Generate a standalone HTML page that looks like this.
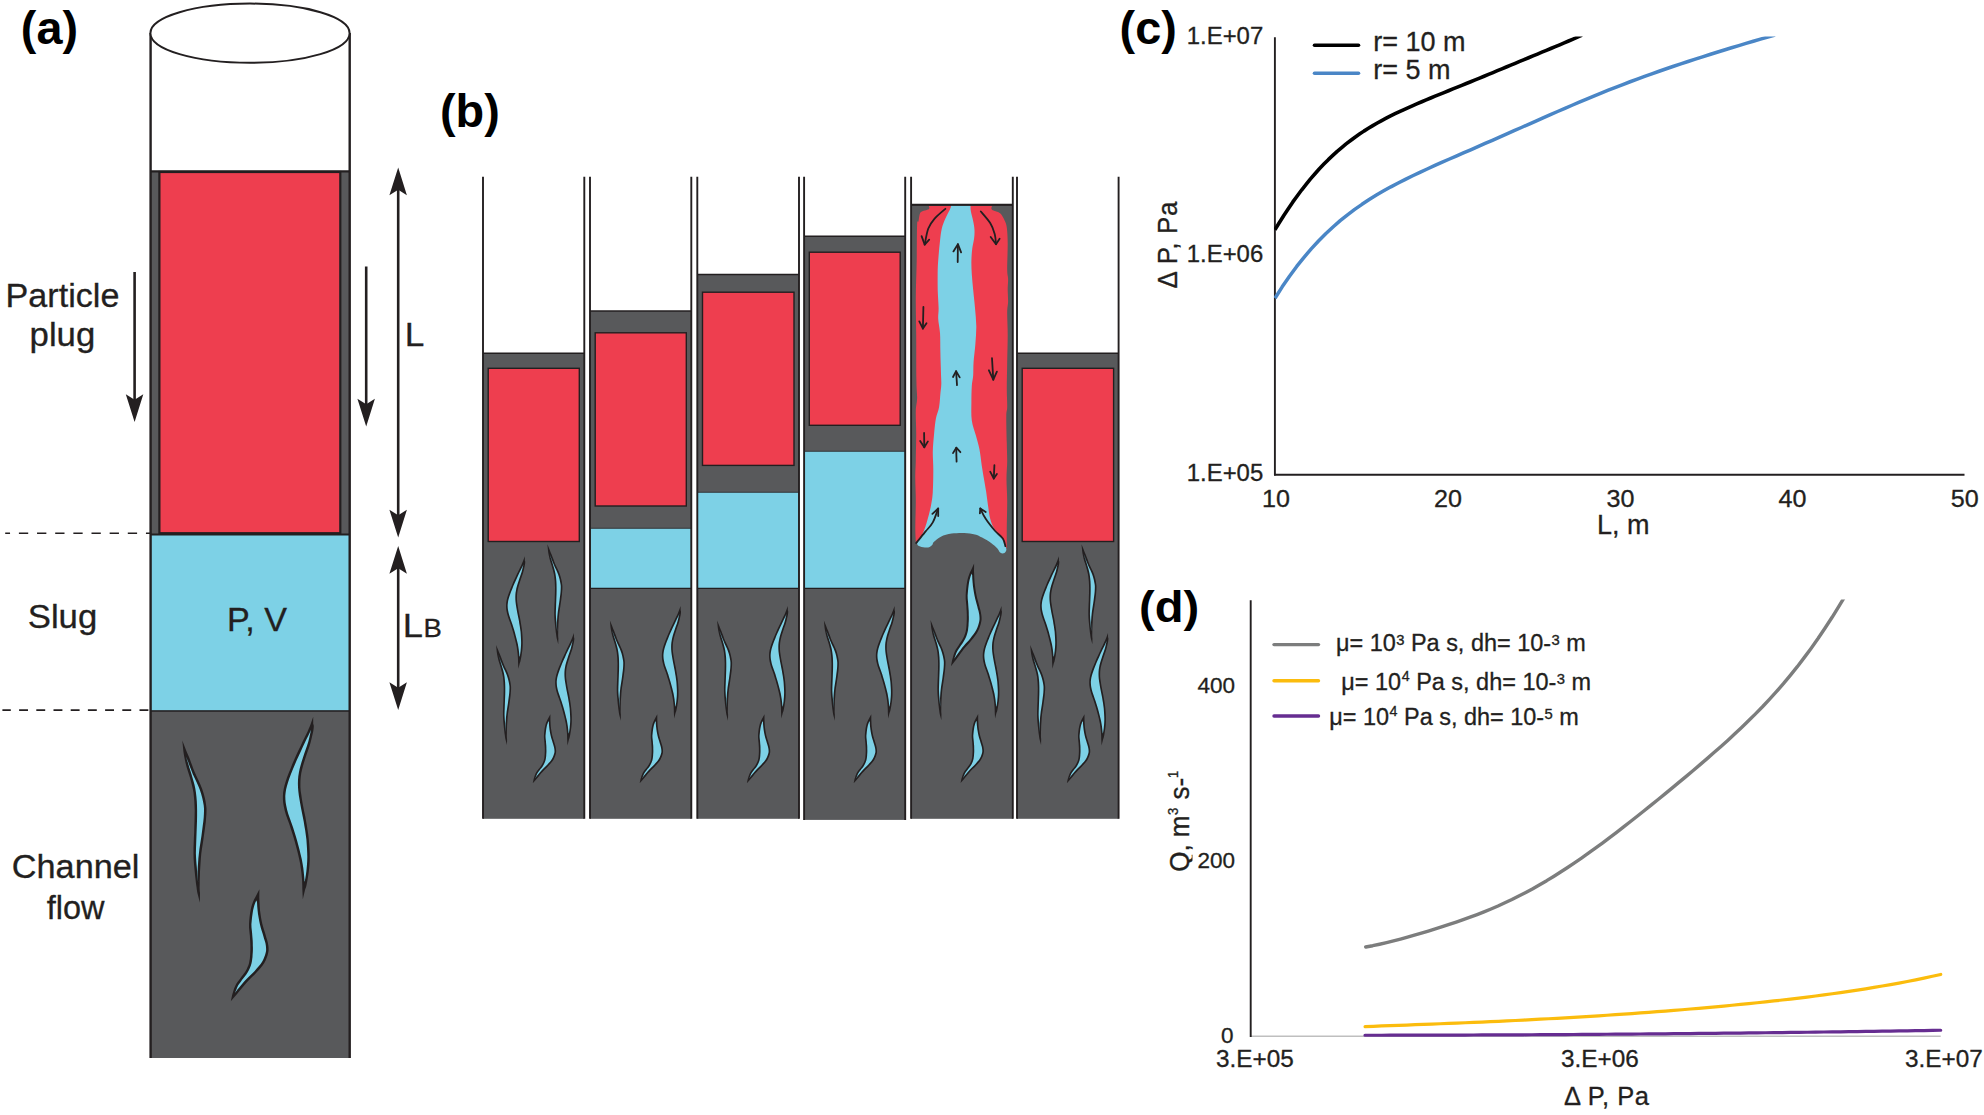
<!DOCTYPE html>
<html lang="en">
<head>
<meta charset="utf-8">
<title>Figure</title>
<style>
html,body{margin:0;padding:0;background:#fff;}
body{width:1984px;height:1115px;overflow:hidden;}
svg{display:block;font-family:"Liberation Sans",sans-serif;}
text{stroke:#231f20;stroke-width:0.3px;}
text.b{stroke:none;}
</style>
</head>
<body>
<svg width="1984" height="1115" viewBox="0 0 1984 1115">
<rect width="1984" height="1115" fill="#fff"/>
<text x="20.8" y="43.8" font-size="46.8" text-anchor="start" font-weight="bold" fill="#000"  class="b">(a)</text>
<path d="M155.25,533.3L5.2,533.3" stroke="#231f20" stroke-width="1.6" stroke-dasharray="9.3,8.85" fill="none"/>
<path d="M148.4,710.1L2.4,710.1" stroke="#231f20" stroke-width="1.6" stroke-dasharray="8.9,8.3" fill="none"/>
<rect x="150" y="171" width="200" height="887" fill="#58595b"/>
<rect x="150" y="33" width="200" height="138" fill="#fff"/>
<rect x="151" y="535" width="198" height="175.6" fill="#7dd1e6"/>
<line x1="150" y1="711" x2="350" y2="711" stroke="#231f20" stroke-width="1.5"/>
<rect x="159.4" y="172" width="180.9" height="361.2" fill="#ee3e4f" stroke="#231f20" stroke-width="2.2"/>
<line x1="150" y1="171.4" x2="350" y2="171.4" stroke="#231f20" stroke-width="2.1"/>
<line x1="150" y1="534.6" x2="350" y2="534.6" stroke="#231f20" stroke-width="2"/>
<line x1="150.6" y1="33" x2="150.6" y2="1058" stroke="#231f20" stroke-width="2.4"/>
<line x1="349.7" y1="33" x2="349.7" y2="1058" stroke="#231f20" stroke-width="2.4"/>
<ellipse cx="250" cy="33.2" rx="99.6" ry="29.6" fill="#fff" stroke="#231f20" stroke-width="2"/>
<g transform="translate(182.3,740.5) scale(1.000,1.000)"><path d="M0.0,0.0L3.6,9.2L4.5,11.4L5.6,14.1L6.9,17.1L8.2,20.6L9.7,24.6L11.2,28.7L12.9,32.7L14.6,36.6L16.5,40.5L18.3,44.4L19.9,48.4L21.2,52.5L22.3,56.6L23.2,60.6L23.8,64.4L24.2,67.8L24.2,70.7L24.1,73.7L23.8,77.2L23.5,81.4L22.9,85.9L22.3,90.6L21.6,95.3L21.0,99.8L20.3,104.2L19.6,108.7L19.0,113.1L18.6,117.6L18.3,122.1L18.0,126.6L17.7,131.0L17.6,135.3L17.4,139.8L17.4,143.8L17.3,147.1L17.4,149.4L17.5,151.1L17.7,152.3L17.6,162.3L15.1,152.4L14.8,150.9L14.5,148.9L14.2,146.4L13.7,143.2L13.3,139.4L12.8,135.2L12.4,131.0L12.0,126.8L11.6,122.4L11.3,117.8L11.2,113.0L11.2,107.8L11.4,102.4L11.6,96.9L11.9,91.5L12.0,86.0L12.2,80.5L12.3,75.1L12.4,70.0L12.2,65.2L12.0,60.6L11.6,56.3L11.2,52.2L10.5,48.4L9.7,44.9L8.8,41.5L7.9,38.0L6.8,34.5L5.7,30.9L4.5,27.3L3.5,23.6L2.6,19.4L1.7,15.0L1.1,11.1Z" fill="#231f20"/><path d="M3.6,16.1L5.9,21.5L7.3,25.5L8.9,29.6L10.5,33.7L12.3,37.6L14.2,41.5L16.0,45.4L17.5,49.2L18.8,53.2L19.9,57.2L20.7,61.1L21.4,64.8L21.7,67.9L21.7,70.7L21.6,73.6L21.4,77.0L21.0,81.1L20.4,85.6L19.8,90.3L19.2,94.9L18.5,99.4L17.8,103.9L17.1,108.4L16.6,112.9L16.1,117.4L15.8,122.0L15.5,126.5L15.3,130.8L15.8,141.7L14.8,130.8L14.5,126.6L14.1,122.2L13.8,117.7L13.6,113.0L13.7,107.9L13.9,102.5L14.1,97.0L14.3,91.5L14.5,86.1L14.7,80.6L14.8,75.1L14.8,70.0L14.7,65.1L14.5,60.5L14.1,56.0L13.6,51.8L13.0,47.9L12.2,44.3L11.3,40.9L10.3,37.4L9.2,33.8L8.1,30.2L6.9,26.6L5.9,23.0Z" fill="#7dd1e6"/></g>
<g transform="translate(313.2,716.8) scale(1.000,1.000)"><path d="M0.0,0.0L0.0,7.2L0.4,8.0L0.6,9.3L0.5,11.3L0.1,14.1L-0.7,17.8L-1.6,21.8L-2.6,25.8L-3.8,29.8L-5.2,33.8L-6.6,37.8L-7.9,41.7L-9.1,45.4L-10.2,49.1L-11.1,52.7L-11.9,56.2L-12.4,59.7L-12.7,63.1L-12.8,66.6L-12.8,70.2L-12.5,74.1L-11.9,78.0L-11.3,82.2L-10.6,86.4L-9.8,90.7L-8.9,95.3L-7.9,99.8L-7.1,104.4L-6.3,108.9L-5.6,113.4L-4.9,117.9L-4.4,122.4L-4.0,127.0L-3.7,131.6L-3.5,136.1L-3.5,140.3L-3.5,144.1L-3.7,147.7L-4.0,151.1L-4.4,154.6L-4.9,158.2L-5.5,162.0L-6.1,165.5L-6.7,168.4L-7.2,170.5L-7.8,172.0L-8.2,173.1L-10.4,182.4L-10.9,171.7L-10.9,169.5L-11.0,166.8L-11.1,163.7L-11.4,160.1L-11.8,156.0L-12.4,151.7L-13.0,147.3L-13.9,143.0L-14.9,138.5L-16.0,133.9L-17.2,129.4L-18.4,125.0L-19.7,120.5L-21.1,116.0L-22.5,111.6L-24.0,107.0L-25.7,102.4L-27.3,97.9L-28.5,93.6L-29.4,89.8L-30.0,86.2L-30.3,82.8L-30.3,79.3L-30.1,75.7L-29.5,72.3L-28.7,68.8L-27.6,64.9L-26.2,60.7L-24.5,56.2L-22.6,51.6L-20.8,47.0L-18.8,42.4L-16.7,37.8L-14.6,33.3L-12.6,29.1L-10.7,25.0L-8.8,21.2L-7.1,17.6L-5.6,14.6L-4.5,12.0L-3.6,9.9L-2.9,8.2Z" fill="#231f20"/><path d="M-2.2,12.9L-3.1,17.3L-4.0,21.3L-5.0,25.2L-6.2,29.0L-7.6,33.0L-9.0,37.0L-10.3,40.9L-11.5,44.7L-12.6,48.4L-13.6,52.1L-14.3,55.8L-14.9,59.4L-15.2,63.0L-15.3,66.6L-15.2,70.4L-14.9,74.3L-14.4,78.4L-13.7,82.6L-13.0,86.8L-12.2,91.2L-11.3,95.7L-10.4,100.3L-9.5,104.8L-8.8,109.3L-8.0,113.8L-7.4,118.2L-6.8,122.6L-6.5,127.1L-6.2,131.7L-6.0,136.1L-5.9,140.3L-6.0,144.1L-6.2,147.5L-6.5,150.9L-6.8,154.2L-7.3,157.9L-7.9,161.6L-8.6,165.0L-9.0,163.6L-8.7,163.5L-9.0,159.9L-9.4,155.7L-9.9,151.3L-10.6,146.9L-11.4,142.4L-12.5,137.9L-13.6,133.3L-14.8,128.8L-16.0,124.3L-17.3,119.8L-18.7,115.3L-20.1,110.8L-21.7,106.2L-23.3,101.6L-24.9,97.1L-26.1,93.0L-26.9,89.3L-27.5,85.9L-27.8,82.6L-27.9,79.3L-27.6,76.0L-27.1,72.8L-26.3,69.4L-25.2,65.7L-23.8,61.5L-22.2,57.1L-20.3,52.5L-18.4,48.0L-16.5,43.5L-14.4,38.9L-12.3,34.4L-10.4,30.1L-8.5,26.1L-6.6,22.3L-4.8,18.7L-3.4,15.6Z" fill="#7dd1e6"/></g>
<g transform="translate(259.4,889.3) scale(1.000,1.000)"><path d="M0.0,0.0L-0.1,8.5L0.1,12.5L0.3,16.9L0.6,20.9L1.1,24.4L1.6,27.9L2.2,31.2L2.9,34.4L3.7,37.5L4.6,40.4L5.5,43.2L6.3,45.9L7.0,48.5L7.8,50.9L8.4,53.3L8.8,55.5L9.1,57.5L9.2,59.4L9.2,61.3L8.8,63.5L8.2,65.9L7.3,68.4L6.2,71.1L4.9,73.6L3.2,76.1L1.2,78.6L-0.8,81.0L-2.9,83.2L-4.9,85.4L-7.1,87.5L-9.1,89.5L-11.1,91.5L-12.9,93.4L-14.6,95.4L-16.3,97.4L-18.0,99.5L-20.1,101.9L-22.3,104.6L-24.3,106.9L-28.6,111.9L-27.2,105.4L-26.3,102.5L-25.3,99.3L-24.2,96.6L-23.1,94.5L-21.9,92.7L-20.7,91.1L-19.4,89.4L-18.0,87.4L-16.4,85.5L-14.9,83.5L-13.7,81.6L-12.6,79.7L-11.8,77.8L-11.0,75.9L-10.4,73.9L-10.0,71.8L-9.6,69.7L-9.4,67.5L-9.2,65.2L-9.1,62.9L-9.0,60.6L-9.0,58.3L-9.0,55.9L-9.1,53.7L-9.2,51.5L-9.4,49.2L-9.5,46.7L-9.8,44.1L-10.1,41.2L-10.4,38.2L-10.4,35.0L-10.2,31.4L-9.8,27.5L-9.3,23.7L-8.7,20.5L-8.1,17.8L-7.5,15.6L-6.8,13.6L-6.0,11.7L-5.1,9.7L-4.1,7.9L-3.2,6.3Z" fill="#231f20"/><path d="M-2.9,11.7L-2.4,12.6L-2.2,17.0L-1.8,21.1L-1.4,24.8L-0.8,28.3L-0.2,31.7L0.5,35.0L1.3,38.1L2.2,41.1L3.1,44.0L3.9,46.7L4.6,49.2L5.4,51.6L6.0,53.8L6.4,55.9L6.6,57.8L6.7,59.4L6.7,61.1L6.4,62.9L5.8,65.1L5.0,67.5L4.0,70.0L2.7,72.4L1.2,74.7L-0.7,77.0L-2.7,79.3L-4.7,81.6L-6.7,83.7L-8.8,85.7L-10.9,87.7L-12.9,89.7L-14.8,91.8L-16.5,93.8L-18.2,95.8L-20.0,97.9L-22.0,100.3L-24.5,103.7L-23.0,100.2L-22.0,97.6L-21.0,95.8L-19.9,94.2L-18.7,92.6L-17.4,90.8L-16.0,89.0L-14.4,87.0L-12.9,84.9L-11.5,82.8L-10.4,80.8L-9.5,78.8L-8.7,76.7L-8.0,74.5L-7.5,72.3L-7.2,70.0L-6.9,67.7L-6.8,65.4L-6.6,63.0L-6.5,60.6L-6.5,58.3L-6.6,55.9L-6.6,53.6L-6.7,51.3L-6.9,49.0L-7.1,46.5L-7.3,43.8L-7.6,41.0L-7.9,38.1L-8.0,35.0L-7.7,31.6L-7.3,27.8L-6.8,24.1L-6.3,20.9L-5.7,18.4L-5.1,16.3L-4.5,14.5L-3.8,12.7L-2.9,10.9Z" fill="#7dd1e6"/></g>
<line x1="134.6" y1="272" x2="134.6" y2="410" stroke="#231f20" stroke-width="2.6"/>
<polygon points="134.6,422.0 125.8,394.3 134.6,399.7 143.3,394.3" fill="#231f20"/>
<line x1="366.2" y1="266.5" x2="366.2" y2="414" stroke="#231f20" stroke-width="2.6"/>
<polygon points="366.2,426.5 357.4,398.8 366.2,404.2 374.9,398.8" fill="#231f20"/>
<line x1="398.2" y1="185" x2="398.2" y2="525" stroke="#231f20" stroke-width="2.6"/>
<polygon points="398.2,167.5 389.4,195.2 398.2,189.8 406.9,195.2" fill="#231f20"/>
<polygon points="398.2,537.5 389.4,509.8 398.2,515.2 406.9,509.8" fill="#231f20"/>
<line x1="398.2" y1="560" x2="398.2" y2="698" stroke="#231f20" stroke-width="2.6"/>
<polygon points="398.2,546.0 389.4,573.7 398.2,568.3 406.9,573.7" fill="#231f20"/>
<polygon points="398.2,710.0 389.4,682.3 398.2,687.7 406.9,682.3" fill="#231f20"/>
<text transform="translate(62.5,307.0) scale(1.050,1)" font-size="32.5" text-anchor="middle" font-weight="normal" fill="#231f20" >Particle</text>
<text transform="translate(62.4,346.4) scale(1.070,1)" font-size="32.5" text-anchor="middle" font-weight="normal" fill="#231f20" >plug</text>
<text transform="translate(62.5,627.5) scale(1.070,1)" font-size="32.5" text-anchor="middle" font-weight="normal" fill="#231f20" >Slug</text>
<text transform="translate(75.6,877.7) scale(1.055,1)" font-size="32.5" text-anchor="middle" font-weight="normal" fill="#231f20" >Channel</text>
<text x="75.6" y="918.8" font-size="32.5" text-anchor="middle" font-weight="normal" fill="#231f20" >flow</text>
<text transform="translate(257.0,631.3) scale(1.050,1)" font-size="32.5" text-anchor="middle" font-weight="normal" fill="#231f20" >P, V</text>
<text transform="translate(404.8,346.4) scale(1.050,1)" font-size="33.5" text-anchor="start" font-weight="normal" fill="#231f20" >L</text>
<text transform="translate(402.8,636.8) scale(1.1,1)" font-size="33" fill="#231f20">L<tspan font-size="25" dx="0.5">B</tspan></text>
<text x="440.0" y="127.3" font-size="46.8" text-anchor="start" font-weight="bold" fill="#000"  class="b">(b)</text>
<rect x="483.0" y="353.3" width="101.3" height="465.5" fill="#58595b"/>
<rect x="488.2" y="368.3" width="91.1" height="173.2" fill="#ee3e4f" stroke="#231f20" stroke-width="1.4"/>
<line x1="483.0" y1="353.3" x2="584.3" y2="353.3" stroke="#231f20" stroke-width="1.6"/>
<line x1="483.0" y1="176.8" x2="483.0" y2="818.8" stroke="#231f20" stroke-width="1.9"/>
<line x1="584.3" y1="176.8" x2="584.3" y2="818.8" stroke="#231f20" stroke-width="1.9"/>
<rect x="590.0" y="311.0" width="101.3" height="507.8" fill="#58595b"/>
<rect x="590.5" y="528.3" width="100.3" height="60.0" fill="#7dd1e6"/>
<line x1="590.0" y1="588.3" x2="691.3" y2="588.3" stroke="#231f20" stroke-width="1.2"/>
<line x1="590.0" y1="528.3" x2="691.3" y2="528.3" stroke="#231f20" stroke-width="1.2" opacity="0.6"/>
<rect x="595.2" y="332.8" width="91.1" height="173.2" fill="#ee3e4f" stroke="#231f20" stroke-width="1.4"/>
<line x1="590.0" y1="311.0" x2="691.3" y2="311.0" stroke="#231f20" stroke-width="1.6"/>
<line x1="590.0" y1="176.8" x2="590.0" y2="818.8" stroke="#231f20" stroke-width="1.9"/>
<line x1="691.3" y1="176.8" x2="691.3" y2="818.8" stroke="#231f20" stroke-width="1.9"/>
<rect x="697.3" y="274.5" width="101.7" height="544.3" fill="#58595b"/>
<rect x="697.8" y="492.3" width="100.7" height="96.0" fill="#7dd1e6"/>
<line x1="697.3" y1="588.3" x2="799.0" y2="588.3" stroke="#231f20" stroke-width="1.2"/>
<line x1="697.3" y1="492.3" x2="799.0" y2="492.3" stroke="#231f20" stroke-width="1.2" opacity="0.6"/>
<rect x="702.5" y="292.2" width="91.5" height="173.2" fill="#ee3e4f" stroke="#231f20" stroke-width="1.4"/>
<line x1="697.3" y1="274.5" x2="799.0" y2="274.5" stroke="#231f20" stroke-width="1.6"/>
<line x1="697.3" y1="176.8" x2="697.3" y2="818.8" stroke="#231f20" stroke-width="1.9"/>
<line x1="799.0" y1="176.8" x2="799.0" y2="818.8" stroke="#231f20" stroke-width="1.9"/>
<rect x="804.1" y="236.3" width="101.1" height="583.6" fill="#58595b"/>
<rect x="804.6" y="451.3" width="100.1" height="137.0" fill="#7dd1e6"/>
<line x1="804.1" y1="588.3" x2="905.2" y2="588.3" stroke="#231f20" stroke-width="1.2"/>
<line x1="804.1" y1="451.3" x2="905.2" y2="451.3" stroke="#231f20" stroke-width="1.2" opacity="0.6"/>
<rect x="809.3" y="252.2" width="90.9" height="173.1" fill="#ee3e4f" stroke="#231f20" stroke-width="1.4"/>
<line x1="804.1" y1="236.3" x2="905.2" y2="236.3" stroke="#231f20" stroke-width="1.6"/>
<line x1="804.1" y1="176.8" x2="804.1" y2="819.9" stroke="#231f20" stroke-width="1.9"/>
<line x1="905.2" y1="176.8" x2="905.2" y2="819.9" stroke="#231f20" stroke-width="1.9"/>
<rect x="911.1" y="204.8" width="101.7" height="614.0" fill="#58595b"/>
<line x1="911.1" y1="204.8" x2="1012.8" y2="204.8" stroke="#231f20" stroke-width="1.6"/>
<line x1="911.1" y1="176.8" x2="911.1" y2="818.8" stroke="#231f20" stroke-width="1.9"/>
<line x1="1012.8" y1="176.8" x2="1012.8" y2="818.8" stroke="#231f20" stroke-width="1.9"/>
<rect x="1017.0" y="353.3" width="101.6" height="465.5" fill="#58595b"/>
<rect x="1022.2" y="368.3" width="91.4" height="173.2" fill="#ee3e4f" stroke="#231f20" stroke-width="1.4"/>
<line x1="1017.0" y1="353.3" x2="1118.6" y2="353.3" stroke="#231f20" stroke-width="1.6"/>
<line x1="1017.0" y1="176.8" x2="1017.0" y2="818.8" stroke="#231f20" stroke-width="1.9"/>
<line x1="1118.6" y1="176.8" x2="1118.6" y2="818.8" stroke="#231f20" stroke-width="1.9"/>
<g transform="translate(524.8,556.2) scale(0.617,0.617)"><path d="M0.0,0.0L0.1,7.2L0.5,7.9L0.7,9.3L0.6,11.3L0.2,14.2L-0.6,17.8L-1.5,21.9L-2.5,25.9L-3.7,29.8L-5.1,33.8L-6.5,37.8L-7.8,41.7L-9.0,45.5L-10.1,49.1L-11.0,52.7L-11.8,56.2L-12.3,59.7L-12.6,63.1L-12.7,66.6L-12.7,70.2L-12.4,74.1L-11.8,78.0L-11.2,82.1L-10.5,86.4L-9.7,90.7L-8.8,95.2L-7.8,99.8L-7.0,104.4L-6.2,108.9L-5.5,113.4L-4.8,117.9L-4.3,122.4L-3.9,126.9L-3.6,131.6L-3.4,136.1L-3.4,140.3L-3.4,144.1L-3.6,147.7L-3.9,151.1L-4.3,154.6L-4.8,158.2L-5.4,162.0L-6.0,165.5L-6.6,168.4L-7.1,170.5L-7.7,172.1L-8.1,173.1L-10.4,182.4L-11.0,171.7L-11.0,169.5L-11.1,166.8L-11.2,163.7L-11.5,160.1L-11.9,156.0L-12.5,151.7L-13.1,147.3L-14.0,143.0L-15.0,138.5L-16.1,134.0L-17.3,129.4L-18.5,125.0L-19.8,120.5L-21.2,116.1L-22.6,111.6L-24.1,107.1L-25.8,102.5L-27.4,97.9L-28.6,93.6L-29.5,89.8L-30.1,86.2L-30.4,82.8L-30.4,79.3L-30.2,75.7L-29.6,72.3L-28.8,68.7L-27.7,64.9L-26.3,60.7L-24.6,56.2L-22.7,51.5L-20.8,47.0L-18.9,42.4L-16.8,37.8L-14.7,33.3L-12.7,29.0L-10.8,25.0L-8.9,21.1L-7.2,17.6L-5.7,14.5L-4.6,12.0L-3.7,9.8L-3.0,8.1Z" fill="#231f20"/><path d="M-2.2,12.9L-3.2,17.3L-4.1,21.2L-5.1,25.1L-6.3,29.0L-7.7,32.9L-9.1,37.0L-10.4,40.9L-11.6,44.7L-12.7,48.4L-13.7,52.1L-14.4,55.8L-15.0,59.4L-15.3,63.0L-15.4,66.6L-15.3,70.4L-15.0,74.3L-14.5,78.4L-13.8,82.6L-13.1,86.8L-12.3,91.2L-11.4,95.8L-10.5,100.3L-9.6,104.8L-8.9,109.3L-8.1,113.8L-7.5,118.2L-6.9,122.6L-6.6,127.1L-6.3,131.7L-6.1,136.1L-6.0,140.3L-6.1,144.0L-6.3,147.5L-6.6,150.9L-6.9,154.2L-7.4,157.9L-8.0,161.6L-9.0,163.6L-8.6,163.5L-8.9,159.9L-9.3,155.7L-9.8,151.3L-10.5,146.9L-11.3,142.4L-12.4,137.9L-13.5,133.3L-14.7,128.8L-15.9,124.2L-17.2,119.8L-18.6,115.3L-20.0,110.8L-21.6,106.2L-23.2,101.6L-24.8,97.1L-26.0,93.0L-26.8,89.3L-27.4,85.9L-27.7,82.6L-27.8,79.3L-27.5,76.1L-27.0,72.8L-26.2,69.4L-25.1,65.7L-23.7,61.6L-22.1,57.1L-20.2,52.6L-18.4,48.0L-16.4,43.5L-14.3,38.9L-12.3,34.4L-10.3,30.2L-8.4,26.2L-6.5,22.3L-4.7,18.8L-3.3,15.7Z" fill="#7dd1e6"/></g>
<g transform="translate(547.4,544.2) scale(0.617,0.617)"><path d="M0.0,0.0L3.7,9.1L4.6,11.4L5.7,14.1L7.0,17.1L8.3,20.6L9.8,24.5L11.3,28.7L12.9,32.7L14.7,36.5L16.6,40.4L18.4,44.4L20.0,48.3L21.3,52.4L22.4,56.6L23.3,60.6L23.9,64.4L24.3,67.7L24.3,70.7L24.2,73.7L23.9,77.2L23.6,81.4L23.0,85.9L22.4,90.7L21.7,95.3L21.1,99.8L20.4,104.3L19.7,108.7L19.1,113.2L18.7,117.6L18.4,122.2L18.1,126.6L17.8,131.0L17.7,135.4L17.5,139.8L17.5,143.8L17.4,147.1L17.5,149.4L17.6,151.1L17.8,152.3L17.6,162.3L15.0,152.4L14.7,150.9L14.4,148.9L14.1,146.4L13.6,143.2L13.2,139.4L12.7,135.2L12.3,131.0L11.9,126.8L11.5,122.4L11.2,117.9L11.1,113.0L11.1,107.8L11.3,102.4L11.5,96.9L11.8,91.5L11.9,86.0L12.1,80.5L12.2,75.1L12.3,70.0L12.1,65.2L11.9,60.6L11.5,56.3L11.1,52.2L10.4,48.4L9.6,44.9L8.7,41.5L7.8,38.1L6.8,34.5L5.6,31.0L4.4,27.3L3.4,23.6L2.5,19.5L1.6,15.0L1.0,11.1Z" fill="#231f20"/><path d="M3.6,16.1L5.8,21.5L7.2,25.5L8.8,29.6L10.5,33.7L12.2,37.7L14.1,41.6L15.9,45.4L17.4,49.3L18.7,53.2L19.8,57.2L20.6,61.1L21.3,64.8L21.6,67.9L21.6,70.7L21.5,73.6L21.3,77.0L20.9,81.1L20.3,85.6L19.7,90.3L19.1,94.9L18.4,99.4L17.7,103.9L17.0,108.3L16.5,112.8L16.0,117.4L15.7,122.0L15.4,126.5L15.8,141.7L14.6,126.6L14.2,122.2L13.9,117.7L13.7,113.0L13.8,107.9L14.0,102.5L14.2,97.0L14.4,91.5L14.6,86.1L14.8,80.6L14.9,75.1L14.9,70.0L14.8,65.1L14.6,60.5L14.2,56.0L13.7,51.8L13.1,47.9L12.3,44.3L11.4,40.8L10.4,37.3L9.3,33.7L8.2,30.1L7.0,26.6L6.0,23.0Z" fill="#7dd1e6"/></g>
<g transform="translate(496.1,644.9) scale(0.617,0.617)"><path d="M0.0,0.0L3.7,9.1L4.6,11.4L5.7,14.1L7.0,17.1L8.3,20.6L9.8,24.5L11.3,28.7L12.9,32.7L14.7,36.5L16.6,40.4L18.4,44.4L20.0,48.3L21.3,52.4L22.4,56.6L23.3,60.6L23.9,64.4L24.3,67.7L24.3,70.7L24.2,73.7L23.9,77.2L23.6,81.4L23.0,85.9L22.4,90.7L21.7,95.3L21.1,99.8L20.4,104.3L19.7,108.7L19.1,113.2L18.7,117.6L18.4,122.2L18.1,126.6L17.8,131.0L17.7,135.4L17.5,139.8L17.5,143.8L17.4,147.1L17.5,149.4L17.6,151.1L17.8,152.3L17.6,162.3L15.0,152.4L14.7,150.9L14.4,148.9L14.1,146.4L13.6,143.2L13.2,139.4L12.7,135.2L12.3,131.0L11.9,126.8L11.5,122.4L11.2,117.9L11.1,113.0L11.1,107.8L11.3,102.4L11.5,96.9L11.8,91.5L11.9,86.0L12.1,80.5L12.2,75.1L12.3,70.0L12.1,65.2L11.9,60.6L11.5,56.3L11.1,52.2L10.4,48.4L9.6,44.9L8.7,41.5L7.8,38.1L6.8,34.5L5.6,31.0L4.4,27.3L3.4,23.6L2.5,19.5L1.6,15.0L1.0,11.1Z" fill="#231f20"/><path d="M3.6,16.1L5.8,21.5L7.2,25.5L8.8,29.6L10.5,33.7L12.2,37.7L14.1,41.6L15.9,45.4L17.4,49.3L18.7,53.2L19.8,57.2L20.6,61.1L21.3,64.8L21.6,67.9L21.6,70.7L21.5,73.6L21.3,77.0L20.9,81.1L20.3,85.6L19.7,90.3L19.1,94.9L18.4,99.4L17.7,103.9L17.0,108.3L16.5,112.8L16.0,117.4L15.7,122.0L15.4,126.5L15.8,141.7L14.6,126.6L14.2,122.2L13.9,117.7L13.7,113.0L13.8,107.9L14.0,102.5L14.2,97.0L14.4,91.5L14.6,86.1L14.8,80.6L14.9,75.1L14.9,70.0L14.8,65.1L14.6,60.5L14.2,56.0L13.7,51.8L13.1,47.9L12.3,44.3L11.4,40.8L10.4,37.3L9.3,33.7L8.2,30.1L7.0,26.6L6.0,23.0Z" fill="#7dd1e6"/></g>
<g transform="translate(573.9,632.9) scale(0.617,0.617)"><path d="M0.0,0.0L0.1,7.2L0.5,7.9L0.7,9.3L0.6,11.3L0.2,14.2L-0.6,17.8L-1.5,21.9L-2.5,25.9L-3.7,29.8L-5.1,33.8L-6.5,37.8L-7.8,41.7L-9.0,45.5L-10.1,49.1L-11.0,52.7L-11.8,56.2L-12.3,59.7L-12.6,63.1L-12.7,66.6L-12.7,70.2L-12.4,74.1L-11.8,78.0L-11.2,82.1L-10.5,86.4L-9.7,90.7L-8.8,95.2L-7.8,99.8L-7.0,104.4L-6.2,108.9L-5.5,113.4L-4.8,117.9L-4.3,122.4L-3.9,126.9L-3.6,131.6L-3.4,136.1L-3.4,140.3L-3.4,144.1L-3.6,147.7L-3.9,151.1L-4.3,154.6L-4.8,158.2L-5.4,162.0L-6.0,165.5L-6.6,168.4L-7.1,170.5L-7.7,172.1L-8.1,173.1L-10.4,182.4L-11.0,171.7L-11.0,169.5L-11.1,166.8L-11.2,163.7L-11.5,160.1L-11.9,156.0L-12.5,151.7L-13.1,147.3L-14.0,143.0L-15.0,138.5L-16.1,134.0L-17.3,129.4L-18.5,125.0L-19.8,120.5L-21.2,116.1L-22.6,111.6L-24.1,107.1L-25.8,102.5L-27.4,97.9L-28.6,93.6L-29.5,89.8L-30.1,86.2L-30.4,82.8L-30.4,79.3L-30.2,75.7L-29.6,72.3L-28.8,68.7L-27.7,64.9L-26.3,60.7L-24.6,56.2L-22.7,51.5L-20.8,47.0L-18.9,42.4L-16.8,37.8L-14.7,33.3L-12.7,29.0L-10.8,25.0L-8.9,21.1L-7.2,17.6L-5.7,14.5L-4.6,12.0L-3.7,9.8L-3.0,8.1Z" fill="#231f20"/><path d="M-2.2,12.9L-3.2,17.3L-4.1,21.2L-5.1,25.1L-6.3,29.0L-7.7,32.9L-9.1,37.0L-10.4,40.9L-11.6,44.7L-12.7,48.4L-13.7,52.1L-14.4,55.8L-15.0,59.4L-15.3,63.0L-15.4,66.6L-15.3,70.4L-15.0,74.3L-14.5,78.4L-13.8,82.6L-13.1,86.8L-12.3,91.2L-11.4,95.8L-10.5,100.3L-9.6,104.8L-8.9,109.3L-8.1,113.8L-7.5,118.2L-6.9,122.6L-6.6,127.1L-6.3,131.7L-6.1,136.1L-6.0,140.3L-6.1,144.0L-6.3,147.5L-6.6,150.9L-6.9,154.2L-7.4,157.9L-8.0,161.6L-9.0,163.6L-8.6,163.5L-8.9,159.9L-9.3,155.7L-9.8,151.3L-10.5,146.9L-11.3,142.4L-12.4,137.9L-13.5,133.3L-14.7,128.8L-15.9,124.2L-17.2,119.8L-18.6,115.3L-20.0,110.8L-21.6,106.2L-23.2,101.6L-24.8,97.1L-26.0,93.0L-26.8,89.3L-27.4,85.9L-27.7,82.6L-27.8,79.3L-27.5,76.1L-27.0,72.8L-26.2,69.4L-25.1,65.7L-23.7,61.6L-22.1,57.1L-20.2,52.6L-18.4,48.0L-16.4,43.5L-14.3,38.9L-12.3,34.4L-10.3,30.2L-8.4,26.2L-6.5,22.3L-4.7,18.8L-3.3,15.7Z" fill="#7dd1e6"/></g>
<g transform="translate(550.4,714.2) scale(0.617,0.617)"><path d="M0.0,0.0L-0.0,8.5L0.2,12.5L0.4,16.9L0.7,20.9L1.2,24.4L1.7,27.8L2.3,31.2L3.0,34.4L3.8,37.4L4.7,40.4L5.6,43.2L6.4,45.9L7.1,48.5L7.9,50.9L8.5,53.2L8.9,55.5L9.2,57.5L9.3,59.4L9.3,61.3L8.9,63.5L8.3,65.9L7.4,68.5L6.3,71.1L5.0,73.7L3.3,76.2L1.3,78.7L-0.8,81.0L-2.8,83.3L-4.9,85.5L-7.0,87.6L-9.1,89.5L-11.0,91.5L-12.8,93.5L-14.5,95.5L-16.2,97.5L-18.0,99.6L-20.0,102.0L-22.2,104.6L-24.2,107.0L-28.6,111.9L-27.3,105.4L-26.4,102.5L-25.4,99.3L-24.3,96.5L-23.2,94.4L-22.0,92.6L-20.8,91.0L-19.5,89.3L-18.0,87.4L-16.5,85.4L-15.0,83.4L-13.8,81.5L-12.7,79.6L-11.9,77.7L-11.1,75.8L-10.5,73.9L-10.0,71.8L-9.7,69.7L-9.5,67.5L-9.3,65.2L-9.2,62.9L-9.1,60.6L-9.1,58.3L-9.1,55.9L-9.2,53.7L-9.3,51.5L-9.5,49.2L-9.6,46.7L-9.9,44.1L-10.2,41.2L-10.5,38.2L-10.5,35.0L-10.3,31.4L-9.9,27.5L-9.4,23.7L-8.8,20.4L-8.2,17.8L-7.6,15.5L-6.9,13.6L-6.1,11.7L-5.2,9.7L-4.2,7.8L-3.3,6.2Z" fill="#231f20"/><path d="M-2.9,11.7L-2.5,12.6L-2.3,17.0L-1.9,21.1L-1.5,24.8L-0.9,28.3L-0.3,31.7L0.4,35.0L1.2,38.2L2.1,41.2L3.0,44.0L3.8,46.7L4.6,49.2L5.3,51.6L5.9,53.8L6.3,55.9L6.5,57.8L6.6,59.4L6.6,61.1L6.3,62.9L5.7,65.1L4.9,67.5L3.9,69.9L2.6,72.3L1.1,74.6L-0.8,76.9L-2.8,79.2L-4.8,81.5L-6.8,83.6L-8.9,85.6L-11.0,87.6L-13.0,89.7L-14.8,91.7L-16.6,93.7L-18.3,95.7L-20.0,97.8L-22.1,100.3L-24.5,103.7L-22.9,100.2L-21.9,97.7L-20.9,95.8L-19.8,94.2L-18.6,92.6L-17.3,90.9L-15.9,89.0L-14.3,87.0L-12.8,85.0L-11.4,82.9L-10.3,80.8L-9.4,78.8L-8.6,76.7L-7.9,74.5L-7.4,72.3L-7.1,70.0L-6.8,67.7L-6.7,65.4L-6.5,63.0L-6.4,60.6L-6.4,58.3L-6.5,55.9L-6.5,53.6L-6.6,51.3L-6.8,49.0L-7.0,46.5L-7.2,43.8L-7.5,41.0L-7.8,38.1L-7.9,35.0L-7.6,31.6L-7.2,27.8L-6.7,24.1L-6.2,21.0L-5.6,18.4L-5.0,16.4L-4.4,14.5L-3.7,12.7L-2.8,10.9Z" fill="#7dd1e6"/></g>
<g transform="translate(1058.9,556.2) scale(0.617,0.617)"><path d="M0.0,0.0L0.1,7.2L0.5,7.9L0.7,9.3L0.6,11.3L0.2,14.2L-0.6,17.8L-1.5,21.9L-2.5,25.9L-3.7,29.8L-5.1,33.8L-6.5,37.8L-7.8,41.7L-9.0,45.5L-10.1,49.1L-11.0,52.7L-11.8,56.2L-12.3,59.7L-12.6,63.1L-12.7,66.6L-12.7,70.2L-12.4,74.1L-11.8,78.0L-11.2,82.1L-10.5,86.4L-9.7,90.7L-8.8,95.2L-7.8,99.8L-7.0,104.4L-6.2,108.9L-5.5,113.4L-4.8,117.9L-4.3,122.4L-3.9,126.9L-3.6,131.6L-3.4,136.1L-3.4,140.3L-3.4,144.1L-3.6,147.7L-3.9,151.1L-4.3,154.6L-4.8,158.2L-5.4,162.0L-6.0,165.5L-6.6,168.4L-7.1,170.5L-7.7,172.1L-8.1,173.1L-10.4,182.4L-11.0,171.7L-11.0,169.5L-11.1,166.8L-11.2,163.7L-11.5,160.1L-11.9,156.0L-12.5,151.7L-13.1,147.3L-14.0,143.0L-15.0,138.5L-16.1,134.0L-17.3,129.4L-18.5,125.0L-19.8,120.5L-21.2,116.1L-22.6,111.6L-24.1,107.1L-25.8,102.5L-27.4,97.9L-28.6,93.6L-29.5,89.8L-30.1,86.2L-30.4,82.8L-30.4,79.3L-30.2,75.7L-29.6,72.3L-28.8,68.7L-27.7,64.9L-26.3,60.7L-24.6,56.2L-22.7,51.5L-20.8,47.0L-18.9,42.4L-16.8,37.8L-14.7,33.3L-12.7,29.0L-10.8,25.0L-8.9,21.1L-7.2,17.6L-5.7,14.5L-4.6,12.0L-3.7,9.8L-3.0,8.1Z" fill="#231f20"/><path d="M-2.2,12.9L-3.2,17.3L-4.1,21.2L-5.1,25.1L-6.3,29.0L-7.7,32.9L-9.1,37.0L-10.4,40.9L-11.6,44.7L-12.7,48.4L-13.7,52.1L-14.4,55.8L-15.0,59.4L-15.3,63.0L-15.4,66.6L-15.3,70.4L-15.0,74.3L-14.5,78.4L-13.8,82.6L-13.1,86.8L-12.3,91.2L-11.4,95.8L-10.5,100.3L-9.6,104.8L-8.9,109.3L-8.1,113.8L-7.5,118.2L-6.9,122.6L-6.6,127.1L-6.3,131.7L-6.1,136.1L-6.0,140.3L-6.1,144.0L-6.3,147.5L-6.6,150.9L-6.9,154.2L-7.4,157.9L-8.0,161.6L-9.0,163.6L-8.6,163.5L-8.9,159.9L-9.3,155.7L-9.8,151.3L-10.5,146.9L-11.3,142.4L-12.4,137.9L-13.5,133.3L-14.7,128.8L-15.9,124.2L-17.2,119.8L-18.6,115.3L-20.0,110.8L-21.6,106.2L-23.2,101.6L-24.8,97.1L-26.0,93.0L-26.8,89.3L-27.4,85.9L-27.7,82.6L-27.8,79.3L-27.5,76.1L-27.0,72.8L-26.2,69.4L-25.1,65.7L-23.7,61.6L-22.1,57.1L-20.2,52.6L-18.4,48.0L-16.4,43.5L-14.3,38.9L-12.3,34.4L-10.3,30.2L-8.4,26.2L-6.5,22.3L-4.7,18.8L-3.3,15.7Z" fill="#7dd1e6"/></g>
<g transform="translate(1081.5,544.2) scale(0.617,0.617)"><path d="M0.0,0.0L3.7,9.1L4.6,11.4L5.7,14.1L7.0,17.1L8.3,20.6L9.8,24.5L11.3,28.7L12.9,32.7L14.7,36.5L16.6,40.4L18.4,44.4L20.0,48.3L21.3,52.4L22.4,56.6L23.3,60.6L23.9,64.4L24.3,67.7L24.3,70.7L24.2,73.7L23.9,77.2L23.6,81.4L23.0,85.9L22.4,90.7L21.7,95.3L21.1,99.8L20.4,104.3L19.7,108.7L19.1,113.2L18.7,117.6L18.4,122.2L18.1,126.6L17.8,131.0L17.7,135.4L17.5,139.8L17.5,143.8L17.4,147.1L17.5,149.4L17.6,151.1L17.8,152.3L17.6,162.3L15.0,152.4L14.7,150.9L14.4,148.9L14.1,146.4L13.6,143.2L13.2,139.4L12.7,135.2L12.3,131.0L11.9,126.8L11.5,122.4L11.2,117.9L11.1,113.0L11.1,107.8L11.3,102.4L11.5,96.9L11.8,91.5L11.9,86.0L12.1,80.5L12.2,75.1L12.3,70.0L12.1,65.2L11.9,60.6L11.5,56.3L11.1,52.2L10.4,48.4L9.6,44.9L8.7,41.5L7.8,38.1L6.8,34.5L5.6,31.0L4.4,27.3L3.4,23.6L2.5,19.5L1.6,15.0L1.0,11.1Z" fill="#231f20"/><path d="M3.6,16.1L5.8,21.5L7.2,25.5L8.8,29.6L10.5,33.7L12.2,37.7L14.1,41.6L15.9,45.4L17.4,49.3L18.7,53.2L19.8,57.2L20.6,61.1L21.3,64.8L21.6,67.9L21.6,70.7L21.5,73.6L21.3,77.0L20.9,81.1L20.3,85.6L19.7,90.3L19.1,94.9L18.4,99.4L17.7,103.9L17.0,108.3L16.5,112.8L16.0,117.4L15.7,122.0L15.4,126.5L15.8,141.7L14.6,126.6L14.2,122.2L13.9,117.7L13.7,113.0L13.8,107.9L14.0,102.5L14.2,97.0L14.4,91.5L14.6,86.1L14.8,80.6L14.9,75.1L14.9,70.0L14.8,65.1L14.6,60.5L14.2,56.0L13.7,51.8L13.1,47.9L12.3,44.3L11.4,40.8L10.4,37.3L9.3,33.7L8.2,30.1L7.0,26.6L6.0,23.0Z" fill="#7dd1e6"/></g>
<g transform="translate(1030.2,644.9) scale(0.617,0.617)"><path d="M0.0,0.0L3.7,9.1L4.6,11.4L5.7,14.1L7.0,17.1L8.3,20.6L9.8,24.5L11.3,28.7L12.9,32.7L14.7,36.5L16.6,40.4L18.4,44.4L20.0,48.3L21.3,52.4L22.4,56.6L23.3,60.6L23.9,64.4L24.3,67.7L24.3,70.7L24.2,73.7L23.9,77.2L23.6,81.4L23.0,85.9L22.4,90.7L21.7,95.3L21.1,99.8L20.4,104.3L19.7,108.7L19.1,113.2L18.7,117.6L18.4,122.2L18.1,126.6L17.8,131.0L17.7,135.4L17.5,139.8L17.5,143.8L17.4,147.1L17.5,149.4L17.6,151.1L17.8,152.3L17.6,162.3L15.0,152.4L14.7,150.9L14.4,148.9L14.1,146.4L13.6,143.2L13.2,139.4L12.7,135.2L12.3,131.0L11.9,126.8L11.5,122.4L11.2,117.9L11.1,113.0L11.1,107.8L11.3,102.4L11.5,96.9L11.8,91.5L11.9,86.0L12.1,80.5L12.2,75.1L12.3,70.0L12.1,65.2L11.9,60.6L11.5,56.3L11.1,52.2L10.4,48.4L9.6,44.9L8.7,41.5L7.8,38.1L6.8,34.5L5.6,31.0L4.4,27.3L3.4,23.6L2.5,19.5L1.6,15.0L1.0,11.1Z" fill="#231f20"/><path d="M3.6,16.1L5.8,21.5L7.2,25.5L8.8,29.6L10.5,33.7L12.2,37.7L14.1,41.6L15.9,45.4L17.4,49.3L18.7,53.2L19.8,57.2L20.6,61.1L21.3,64.8L21.6,67.9L21.6,70.7L21.5,73.6L21.3,77.0L20.9,81.1L20.3,85.6L19.7,90.3L19.1,94.9L18.4,99.4L17.7,103.9L17.0,108.3L16.5,112.8L16.0,117.4L15.7,122.0L15.4,126.5L15.8,141.7L14.6,126.6L14.2,122.2L13.9,117.7L13.7,113.0L13.8,107.9L14.0,102.5L14.2,97.0L14.4,91.5L14.6,86.1L14.8,80.6L14.9,75.1L14.9,70.0L14.8,65.1L14.6,60.5L14.2,56.0L13.7,51.8L13.1,47.9L12.3,44.3L11.4,40.8L10.4,37.3L9.3,33.7L8.2,30.1L7.0,26.6L6.0,23.0Z" fill="#7dd1e6"/></g>
<g transform="translate(1108.0,632.9) scale(0.617,0.617)"><path d="M0.0,0.0L0.1,7.2L0.5,7.9L0.7,9.3L0.6,11.3L0.2,14.2L-0.6,17.8L-1.5,21.9L-2.5,25.9L-3.7,29.8L-5.1,33.8L-6.5,37.8L-7.8,41.7L-9.0,45.5L-10.1,49.1L-11.0,52.7L-11.8,56.2L-12.3,59.7L-12.6,63.1L-12.7,66.6L-12.7,70.2L-12.4,74.1L-11.8,78.0L-11.2,82.1L-10.5,86.4L-9.7,90.7L-8.8,95.2L-7.8,99.8L-7.0,104.4L-6.2,108.9L-5.5,113.4L-4.8,117.9L-4.3,122.4L-3.9,126.9L-3.6,131.6L-3.4,136.1L-3.4,140.3L-3.4,144.1L-3.6,147.7L-3.9,151.1L-4.3,154.6L-4.8,158.2L-5.4,162.0L-6.0,165.5L-6.6,168.4L-7.1,170.5L-7.7,172.1L-8.1,173.1L-10.4,182.4L-11.0,171.7L-11.0,169.5L-11.1,166.8L-11.2,163.7L-11.5,160.1L-11.9,156.0L-12.5,151.7L-13.1,147.3L-14.0,143.0L-15.0,138.5L-16.1,134.0L-17.3,129.4L-18.5,125.0L-19.8,120.5L-21.2,116.1L-22.6,111.6L-24.1,107.1L-25.8,102.5L-27.4,97.9L-28.6,93.6L-29.5,89.8L-30.1,86.2L-30.4,82.8L-30.4,79.3L-30.2,75.7L-29.6,72.3L-28.8,68.7L-27.7,64.9L-26.3,60.7L-24.6,56.2L-22.7,51.5L-20.8,47.0L-18.9,42.4L-16.8,37.8L-14.7,33.3L-12.7,29.0L-10.8,25.0L-8.9,21.1L-7.2,17.6L-5.7,14.5L-4.6,12.0L-3.7,9.8L-3.0,8.1Z" fill="#231f20"/><path d="M-2.2,12.9L-3.2,17.3L-4.1,21.2L-5.1,25.1L-6.3,29.0L-7.7,32.9L-9.1,37.0L-10.4,40.9L-11.6,44.7L-12.7,48.4L-13.7,52.1L-14.4,55.8L-15.0,59.4L-15.3,63.0L-15.4,66.6L-15.3,70.4L-15.0,74.3L-14.5,78.4L-13.8,82.6L-13.1,86.8L-12.3,91.2L-11.4,95.8L-10.5,100.3L-9.6,104.8L-8.9,109.3L-8.1,113.8L-7.5,118.2L-6.9,122.6L-6.6,127.1L-6.3,131.7L-6.1,136.1L-6.0,140.3L-6.1,144.0L-6.3,147.5L-6.6,150.9L-6.9,154.2L-7.4,157.9L-8.0,161.6L-9.0,163.6L-8.6,163.5L-8.9,159.9L-9.3,155.7L-9.8,151.3L-10.5,146.9L-11.3,142.4L-12.4,137.9L-13.5,133.3L-14.7,128.8L-15.9,124.2L-17.2,119.8L-18.6,115.3L-20.0,110.8L-21.6,106.2L-23.2,101.6L-24.8,97.1L-26.0,93.0L-26.8,89.3L-27.4,85.9L-27.7,82.6L-27.8,79.3L-27.5,76.1L-27.0,72.8L-26.2,69.4L-25.1,65.7L-23.7,61.6L-22.1,57.1L-20.2,52.6L-18.4,48.0L-16.4,43.5L-14.3,38.9L-12.3,34.4L-10.3,30.2L-8.4,26.2L-6.5,22.3L-4.7,18.8L-3.3,15.7Z" fill="#7dd1e6"/></g>
<g transform="translate(1084.5,714.2) scale(0.617,0.617)"><path d="M0.0,0.0L-0.0,8.5L0.2,12.5L0.4,16.9L0.7,20.9L1.2,24.4L1.7,27.8L2.3,31.2L3.0,34.4L3.8,37.4L4.7,40.4L5.6,43.2L6.4,45.9L7.1,48.5L7.9,50.9L8.5,53.2L8.9,55.5L9.2,57.5L9.3,59.4L9.3,61.3L8.9,63.5L8.3,65.9L7.4,68.5L6.3,71.1L5.0,73.7L3.3,76.2L1.3,78.7L-0.8,81.0L-2.8,83.3L-4.9,85.5L-7.0,87.6L-9.1,89.5L-11.0,91.5L-12.8,93.5L-14.5,95.5L-16.2,97.5L-18.0,99.6L-20.0,102.0L-22.2,104.6L-24.2,107.0L-28.6,111.9L-27.3,105.4L-26.4,102.5L-25.4,99.3L-24.3,96.5L-23.2,94.4L-22.0,92.6L-20.8,91.0L-19.5,89.3L-18.0,87.4L-16.5,85.4L-15.0,83.4L-13.8,81.5L-12.7,79.6L-11.9,77.7L-11.1,75.8L-10.5,73.9L-10.0,71.8L-9.7,69.7L-9.5,67.5L-9.3,65.2L-9.2,62.9L-9.1,60.6L-9.1,58.3L-9.1,55.9L-9.2,53.7L-9.3,51.5L-9.5,49.2L-9.6,46.7L-9.9,44.1L-10.2,41.2L-10.5,38.2L-10.5,35.0L-10.3,31.4L-9.9,27.5L-9.4,23.7L-8.8,20.4L-8.2,17.8L-7.6,15.5L-6.9,13.6L-6.1,11.7L-5.2,9.7L-4.2,7.8L-3.3,6.2Z" fill="#231f20"/><path d="M-2.9,11.7L-2.5,12.6L-2.3,17.0L-1.9,21.1L-1.5,24.8L-0.9,28.3L-0.3,31.7L0.4,35.0L1.2,38.2L2.1,41.2L3.0,44.0L3.8,46.7L4.6,49.2L5.3,51.6L5.9,53.8L6.3,55.9L6.5,57.8L6.6,59.4L6.6,61.1L6.3,62.9L5.7,65.1L4.9,67.5L3.9,69.9L2.6,72.3L1.1,74.6L-0.8,76.9L-2.8,79.2L-4.8,81.5L-6.8,83.6L-8.9,85.6L-11.0,87.6L-13.0,89.7L-14.8,91.7L-16.6,93.7L-18.3,95.7L-20.0,97.8L-22.1,100.3L-24.5,103.7L-22.9,100.2L-21.9,97.7L-20.9,95.8L-19.8,94.2L-18.6,92.6L-17.3,90.9L-15.9,89.0L-14.3,87.0L-12.8,85.0L-11.4,82.9L-10.3,80.8L-9.4,78.8L-8.6,76.7L-7.9,74.5L-7.4,72.3L-7.1,70.0L-6.8,67.7L-6.7,65.4L-6.5,63.0L-6.4,60.6L-6.4,58.3L-6.5,55.9L-6.5,53.6L-6.6,51.3L-6.8,49.0L-7.0,46.5L-7.2,43.8L-7.5,41.0L-7.8,38.1L-7.9,35.0L-7.6,31.6L-7.2,27.8L-6.7,24.1L-6.2,21.0L-5.6,18.4L-5.0,16.4L-4.4,14.5L-3.7,12.7L-2.8,10.9Z" fill="#7dd1e6"/></g>
<g transform="translate(609.9,620.5) scale(0.617,0.617)"><path d="M0.0,0.0L3.7,9.1L4.6,11.4L5.7,14.1L7.0,17.1L8.3,20.6L9.8,24.5L11.3,28.7L12.9,32.7L14.7,36.5L16.6,40.4L18.4,44.4L20.0,48.3L21.3,52.4L22.4,56.6L23.3,60.6L23.9,64.4L24.3,67.7L24.3,70.7L24.2,73.7L23.9,77.2L23.6,81.4L23.0,85.9L22.4,90.7L21.7,95.3L21.1,99.8L20.4,104.3L19.7,108.7L19.1,113.2L18.7,117.6L18.4,122.2L18.1,126.6L17.8,131.0L17.7,135.4L17.5,139.8L17.5,143.8L17.4,147.1L17.5,149.4L17.6,151.1L17.8,152.3L17.6,162.3L15.0,152.4L14.7,150.9L14.4,148.9L14.1,146.4L13.6,143.2L13.2,139.4L12.7,135.2L12.3,131.0L11.9,126.8L11.5,122.4L11.2,117.9L11.1,113.0L11.1,107.8L11.3,102.4L11.5,96.9L11.8,91.5L11.9,86.0L12.1,80.5L12.2,75.1L12.3,70.0L12.1,65.2L11.9,60.6L11.5,56.3L11.1,52.2L10.4,48.4L9.6,44.9L8.7,41.5L7.8,38.1L6.8,34.5L5.6,31.0L4.4,27.3L3.4,23.6L2.5,19.5L1.6,15.0L1.0,11.1Z" fill="#231f20"/><path d="M3.6,16.1L5.8,21.5L7.2,25.5L8.8,29.6L10.5,33.7L12.2,37.7L14.1,41.6L15.9,45.4L17.4,49.3L18.7,53.2L19.8,57.2L20.6,61.1L21.3,64.8L21.6,67.9L21.6,70.7L21.5,73.6L21.3,77.0L20.9,81.1L20.3,85.6L19.7,90.3L19.1,94.9L18.4,99.4L17.7,103.9L17.0,108.3L16.5,112.8L16.0,117.4L15.7,122.0L15.4,126.5L15.8,141.7L14.6,126.6L14.2,122.2L13.9,117.7L13.7,113.0L13.8,107.9L14.0,102.5L14.2,97.0L14.4,91.5L14.6,86.1L14.8,80.6L14.9,75.1L14.9,70.0L14.8,65.1L14.6,60.5L14.2,56.0L13.7,51.8L13.1,47.9L12.3,44.3L11.4,40.8L10.4,37.3L9.3,33.7L8.2,30.1L7.0,26.6L6.0,23.0Z" fill="#7dd1e6"/></g>
<g transform="translate(680.6,606.0) scale(0.617,0.617)"><path d="M0.0,0.0L0.1,7.2L0.5,7.9L0.7,9.3L0.6,11.3L0.2,14.2L-0.6,17.8L-1.5,21.9L-2.5,25.9L-3.7,29.8L-5.1,33.8L-6.5,37.8L-7.8,41.7L-9.0,45.5L-10.1,49.1L-11.0,52.7L-11.8,56.2L-12.3,59.7L-12.6,63.1L-12.7,66.6L-12.7,70.2L-12.4,74.1L-11.8,78.0L-11.2,82.1L-10.5,86.4L-9.7,90.7L-8.8,95.2L-7.8,99.8L-7.0,104.4L-6.2,108.9L-5.5,113.4L-4.8,117.9L-4.3,122.4L-3.9,126.9L-3.6,131.6L-3.4,136.1L-3.4,140.3L-3.4,144.1L-3.6,147.7L-3.9,151.1L-4.3,154.6L-4.8,158.2L-5.4,162.0L-6.0,165.5L-6.6,168.4L-7.1,170.5L-7.7,172.1L-8.1,173.1L-10.4,182.4L-11.0,171.7L-11.0,169.5L-11.1,166.8L-11.2,163.7L-11.5,160.1L-11.9,156.0L-12.5,151.7L-13.1,147.3L-14.0,143.0L-15.0,138.5L-16.1,134.0L-17.3,129.4L-18.5,125.0L-19.8,120.5L-21.2,116.1L-22.6,111.6L-24.1,107.1L-25.8,102.5L-27.4,97.9L-28.6,93.6L-29.5,89.8L-30.1,86.2L-30.4,82.8L-30.4,79.3L-30.2,75.7L-29.6,72.3L-28.8,68.7L-27.7,64.9L-26.3,60.7L-24.6,56.2L-22.7,51.5L-20.8,47.0L-18.9,42.4L-16.8,37.8L-14.7,33.3L-12.7,29.0L-10.8,25.0L-8.9,21.1L-7.2,17.6L-5.7,14.5L-4.6,12.0L-3.7,9.8L-3.0,8.1Z" fill="#231f20"/><path d="M-2.2,12.9L-3.2,17.3L-4.1,21.2L-5.1,25.1L-6.3,29.0L-7.7,32.9L-9.1,37.0L-10.4,40.9L-11.6,44.7L-12.7,48.4L-13.7,52.1L-14.4,55.8L-15.0,59.4L-15.3,63.0L-15.4,66.6L-15.3,70.4L-15.0,74.3L-14.5,78.4L-13.8,82.6L-13.1,86.8L-12.3,91.2L-11.4,95.8L-10.5,100.3L-9.6,104.8L-8.9,109.3L-8.1,113.8L-7.5,118.2L-6.9,122.6L-6.6,127.1L-6.3,131.7L-6.1,136.1L-6.0,140.3L-6.1,144.0L-6.3,147.5L-6.6,150.9L-6.9,154.2L-7.4,157.9L-8.0,161.6L-9.0,163.6L-8.6,163.5L-8.9,159.9L-9.3,155.7L-9.8,151.3L-10.5,146.9L-11.3,142.4L-12.4,137.9L-13.5,133.3L-14.7,128.8L-15.9,124.2L-17.2,119.8L-18.6,115.3L-20.0,110.8L-21.6,106.2L-23.2,101.6L-24.8,97.1L-26.0,93.0L-26.8,89.3L-27.4,85.9L-27.7,82.6L-27.8,79.3L-27.5,76.1L-27.0,72.8L-26.2,69.4L-25.1,65.7L-23.7,61.6L-22.1,57.1L-20.2,52.6L-18.4,48.0L-16.4,43.5L-14.3,38.9L-12.3,34.4L-10.3,30.2L-8.4,26.2L-6.5,22.3L-4.7,18.8L-3.3,15.7Z" fill="#7dd1e6"/></g>
<g transform="translate(657.3,714.2) scale(0.617,0.617)"><path d="M0.0,0.0L-0.0,8.5L0.2,12.5L0.4,16.9L0.7,20.9L1.2,24.4L1.7,27.8L2.3,31.2L3.0,34.4L3.8,37.4L4.7,40.4L5.6,43.2L6.4,45.9L7.1,48.5L7.9,50.9L8.5,53.2L8.9,55.5L9.2,57.5L9.3,59.4L9.3,61.3L8.9,63.5L8.3,65.9L7.4,68.5L6.3,71.1L5.0,73.7L3.3,76.2L1.3,78.7L-0.8,81.0L-2.8,83.3L-4.9,85.5L-7.0,87.6L-9.1,89.5L-11.0,91.5L-12.8,93.5L-14.5,95.5L-16.2,97.5L-18.0,99.6L-20.0,102.0L-22.2,104.6L-24.2,107.0L-28.6,111.9L-27.3,105.4L-26.4,102.5L-25.4,99.3L-24.3,96.5L-23.2,94.4L-22.0,92.6L-20.8,91.0L-19.5,89.3L-18.0,87.4L-16.5,85.4L-15.0,83.4L-13.8,81.5L-12.7,79.6L-11.9,77.7L-11.1,75.8L-10.5,73.9L-10.0,71.8L-9.7,69.7L-9.5,67.5L-9.3,65.2L-9.2,62.9L-9.1,60.6L-9.1,58.3L-9.1,55.9L-9.2,53.7L-9.3,51.5L-9.5,49.2L-9.6,46.7L-9.9,44.1L-10.2,41.2L-10.5,38.2L-10.5,35.0L-10.3,31.4L-9.9,27.5L-9.4,23.7L-8.8,20.4L-8.2,17.8L-7.6,15.5L-6.9,13.6L-6.1,11.7L-5.2,9.7L-4.2,7.8L-3.3,6.2Z" fill="#231f20"/><path d="M-2.9,11.7L-2.5,12.6L-2.3,17.0L-1.9,21.1L-1.5,24.8L-0.9,28.3L-0.3,31.7L0.4,35.0L1.2,38.2L2.1,41.2L3.0,44.0L3.8,46.7L4.6,49.2L5.3,51.6L5.9,53.8L6.3,55.9L6.5,57.8L6.6,59.4L6.6,61.1L6.3,62.9L5.7,65.1L4.9,67.5L3.9,69.9L2.6,72.3L1.1,74.6L-0.8,76.9L-2.8,79.2L-4.8,81.5L-6.8,83.6L-8.9,85.6L-11.0,87.6L-13.0,89.7L-14.8,91.7L-16.6,93.7L-18.3,95.7L-20.0,97.8L-22.1,100.3L-24.5,103.7L-22.9,100.2L-21.9,97.7L-20.9,95.8L-19.8,94.2L-18.6,92.6L-17.3,90.9L-15.9,89.0L-14.3,87.0L-12.8,85.0L-11.4,82.9L-10.3,80.8L-9.4,78.8L-8.6,76.7L-7.9,74.5L-7.4,72.3L-7.1,70.0L-6.8,67.7L-6.7,65.4L-6.5,63.0L-6.4,60.6L-6.4,58.3L-6.5,55.9L-6.5,53.6L-6.6,51.3L-6.8,49.0L-7.0,46.5L-7.2,43.8L-7.5,41.0L-7.8,38.1L-7.9,35.0L-7.6,31.6L-7.2,27.8L-6.7,24.1L-6.2,21.0L-5.6,18.4L-5.0,16.4L-4.4,14.5L-3.7,12.7L-2.8,10.9Z" fill="#7dd1e6"/></g>
<g transform="translate(717.1,620.5) scale(0.617,0.617)"><path d="M0.0,0.0L3.7,9.1L4.6,11.4L5.7,14.1L7.0,17.1L8.3,20.6L9.8,24.5L11.3,28.7L12.9,32.7L14.7,36.5L16.6,40.4L18.4,44.4L20.0,48.3L21.3,52.4L22.4,56.6L23.3,60.6L23.9,64.4L24.3,67.7L24.3,70.7L24.2,73.7L23.9,77.2L23.6,81.4L23.0,85.9L22.4,90.7L21.7,95.3L21.1,99.8L20.4,104.3L19.7,108.7L19.1,113.2L18.7,117.6L18.4,122.2L18.1,126.6L17.8,131.0L17.7,135.4L17.5,139.8L17.5,143.8L17.4,147.1L17.5,149.4L17.6,151.1L17.8,152.3L17.6,162.3L15.0,152.4L14.7,150.9L14.4,148.9L14.1,146.4L13.6,143.2L13.2,139.4L12.7,135.2L12.3,131.0L11.9,126.8L11.5,122.4L11.2,117.9L11.1,113.0L11.1,107.8L11.3,102.4L11.5,96.9L11.8,91.5L11.9,86.0L12.1,80.5L12.2,75.1L12.3,70.0L12.1,65.2L11.9,60.6L11.5,56.3L11.1,52.2L10.4,48.4L9.6,44.9L8.7,41.5L7.8,38.1L6.8,34.5L5.6,31.0L4.4,27.3L3.4,23.6L2.5,19.5L1.6,15.0L1.0,11.1Z" fill="#231f20"/><path d="M3.6,16.1L5.8,21.5L7.2,25.5L8.8,29.6L10.5,33.7L12.2,37.7L14.1,41.6L15.9,45.4L17.4,49.3L18.7,53.2L19.8,57.2L20.6,61.1L21.3,64.8L21.6,67.9L21.6,70.7L21.5,73.6L21.3,77.0L20.9,81.1L20.3,85.6L19.7,90.3L19.1,94.9L18.4,99.4L17.7,103.9L17.0,108.3L16.5,112.8L16.0,117.4L15.7,122.0L15.4,126.5L15.8,141.7L14.6,126.6L14.2,122.2L13.9,117.7L13.7,113.0L13.8,107.9L14.0,102.5L14.2,97.0L14.4,91.5L14.6,86.1L14.8,80.6L14.9,75.1L14.9,70.0L14.8,65.1L14.6,60.5L14.2,56.0L13.7,51.8L13.1,47.9L12.3,44.3L11.4,40.8L10.4,37.3L9.3,33.7L8.2,30.1L7.0,26.6L6.0,23.0Z" fill="#7dd1e6"/></g>
<g transform="translate(787.8,606.0) scale(0.617,0.617)"><path d="M0.0,0.0L0.1,7.2L0.5,7.9L0.7,9.3L0.6,11.3L0.2,14.2L-0.6,17.8L-1.5,21.9L-2.5,25.9L-3.7,29.8L-5.1,33.8L-6.5,37.8L-7.8,41.7L-9.0,45.5L-10.1,49.1L-11.0,52.7L-11.8,56.2L-12.3,59.7L-12.6,63.1L-12.7,66.6L-12.7,70.2L-12.4,74.1L-11.8,78.0L-11.2,82.1L-10.5,86.4L-9.7,90.7L-8.8,95.2L-7.8,99.8L-7.0,104.4L-6.2,108.9L-5.5,113.4L-4.8,117.9L-4.3,122.4L-3.9,126.9L-3.6,131.6L-3.4,136.1L-3.4,140.3L-3.4,144.1L-3.6,147.7L-3.9,151.1L-4.3,154.6L-4.8,158.2L-5.4,162.0L-6.0,165.5L-6.6,168.4L-7.1,170.5L-7.7,172.1L-8.1,173.1L-10.4,182.4L-11.0,171.7L-11.0,169.5L-11.1,166.8L-11.2,163.7L-11.5,160.1L-11.9,156.0L-12.5,151.7L-13.1,147.3L-14.0,143.0L-15.0,138.5L-16.1,134.0L-17.3,129.4L-18.5,125.0L-19.8,120.5L-21.2,116.1L-22.6,111.6L-24.1,107.1L-25.8,102.5L-27.4,97.9L-28.6,93.6L-29.5,89.8L-30.1,86.2L-30.4,82.8L-30.4,79.3L-30.2,75.7L-29.6,72.3L-28.8,68.7L-27.7,64.9L-26.3,60.7L-24.6,56.2L-22.7,51.5L-20.8,47.0L-18.9,42.4L-16.8,37.8L-14.7,33.3L-12.7,29.0L-10.8,25.0L-8.9,21.1L-7.2,17.6L-5.7,14.5L-4.6,12.0L-3.7,9.8L-3.0,8.1Z" fill="#231f20"/><path d="M-2.2,12.9L-3.2,17.3L-4.1,21.2L-5.1,25.1L-6.3,29.0L-7.7,32.9L-9.1,37.0L-10.4,40.9L-11.6,44.7L-12.7,48.4L-13.7,52.1L-14.4,55.8L-15.0,59.4L-15.3,63.0L-15.4,66.6L-15.3,70.4L-15.0,74.3L-14.5,78.4L-13.8,82.6L-13.1,86.8L-12.3,91.2L-11.4,95.8L-10.5,100.3L-9.6,104.8L-8.9,109.3L-8.1,113.8L-7.5,118.2L-6.9,122.6L-6.6,127.1L-6.3,131.7L-6.1,136.1L-6.0,140.3L-6.1,144.0L-6.3,147.5L-6.6,150.9L-6.9,154.2L-7.4,157.9L-8.0,161.6L-9.0,163.6L-8.6,163.5L-8.9,159.9L-9.3,155.7L-9.8,151.3L-10.5,146.9L-11.3,142.4L-12.4,137.9L-13.5,133.3L-14.7,128.8L-15.9,124.2L-17.2,119.8L-18.6,115.3L-20.0,110.8L-21.6,106.2L-23.2,101.6L-24.8,97.1L-26.0,93.0L-26.8,89.3L-27.4,85.9L-27.7,82.6L-27.8,79.3L-27.5,76.1L-27.0,72.8L-26.2,69.4L-25.1,65.7L-23.7,61.6L-22.1,57.1L-20.2,52.6L-18.4,48.0L-16.4,43.5L-14.3,38.9L-12.3,34.4L-10.3,30.2L-8.4,26.2L-6.5,22.3L-4.7,18.8L-3.3,15.7Z" fill="#7dd1e6"/></g>
<g transform="translate(764.5,714.2) scale(0.617,0.617)"><path d="M0.0,0.0L-0.0,8.5L0.2,12.5L0.4,16.9L0.7,20.9L1.2,24.4L1.7,27.8L2.3,31.2L3.0,34.4L3.8,37.4L4.7,40.4L5.6,43.2L6.4,45.9L7.1,48.5L7.9,50.9L8.5,53.2L8.9,55.5L9.2,57.5L9.3,59.4L9.3,61.3L8.9,63.5L8.3,65.9L7.4,68.5L6.3,71.1L5.0,73.7L3.3,76.2L1.3,78.7L-0.8,81.0L-2.8,83.3L-4.9,85.5L-7.0,87.6L-9.1,89.5L-11.0,91.5L-12.8,93.5L-14.5,95.5L-16.2,97.5L-18.0,99.6L-20.0,102.0L-22.2,104.6L-24.2,107.0L-28.6,111.9L-27.3,105.4L-26.4,102.5L-25.4,99.3L-24.3,96.5L-23.2,94.4L-22.0,92.6L-20.8,91.0L-19.5,89.3L-18.0,87.4L-16.5,85.4L-15.0,83.4L-13.8,81.5L-12.7,79.6L-11.9,77.7L-11.1,75.8L-10.5,73.9L-10.0,71.8L-9.7,69.7L-9.5,67.5L-9.3,65.2L-9.2,62.9L-9.1,60.6L-9.1,58.3L-9.1,55.9L-9.2,53.7L-9.3,51.5L-9.5,49.2L-9.6,46.7L-9.9,44.1L-10.2,41.2L-10.5,38.2L-10.5,35.0L-10.3,31.4L-9.9,27.5L-9.4,23.7L-8.8,20.4L-8.2,17.8L-7.6,15.5L-6.9,13.6L-6.1,11.7L-5.2,9.7L-4.2,7.8L-3.3,6.2Z" fill="#231f20"/><path d="M-2.9,11.7L-2.5,12.6L-2.3,17.0L-1.9,21.1L-1.5,24.8L-0.9,28.3L-0.3,31.7L0.4,35.0L1.2,38.2L2.1,41.2L3.0,44.0L3.8,46.7L4.6,49.2L5.3,51.6L5.9,53.8L6.3,55.9L6.5,57.8L6.6,59.4L6.6,61.1L6.3,62.9L5.7,65.1L4.9,67.5L3.9,69.9L2.6,72.3L1.1,74.6L-0.8,76.9L-2.8,79.2L-4.8,81.5L-6.8,83.6L-8.9,85.6L-11.0,87.6L-13.0,89.7L-14.8,91.7L-16.6,93.7L-18.3,95.7L-20.0,97.8L-22.1,100.3L-24.5,103.7L-22.9,100.2L-21.9,97.7L-20.9,95.8L-19.8,94.2L-18.6,92.6L-17.3,90.9L-15.9,89.0L-14.3,87.0L-12.8,85.0L-11.4,82.9L-10.3,80.8L-9.4,78.8L-8.6,76.7L-7.9,74.5L-7.4,72.3L-7.1,70.0L-6.8,67.7L-6.7,65.4L-6.5,63.0L-6.4,60.6L-6.4,58.3L-6.5,55.9L-6.5,53.6L-6.6,51.3L-6.8,49.0L-7.0,46.5L-7.2,43.8L-7.5,41.0L-7.8,38.1L-7.9,35.0L-7.6,31.6L-7.2,27.8L-6.7,24.1L-6.2,21.0L-5.6,18.4L-5.0,16.4L-4.4,14.5L-3.7,12.7L-2.8,10.9Z" fill="#7dd1e6"/></g>
<g transform="translate(823.9,620.5) scale(0.617,0.617)"><path d="M0.0,0.0L3.7,9.1L4.6,11.4L5.7,14.1L7.0,17.1L8.3,20.6L9.8,24.5L11.3,28.7L12.9,32.7L14.7,36.5L16.6,40.4L18.4,44.4L20.0,48.3L21.3,52.4L22.4,56.6L23.3,60.6L23.9,64.4L24.3,67.7L24.3,70.7L24.2,73.7L23.9,77.2L23.6,81.4L23.0,85.9L22.4,90.7L21.7,95.3L21.1,99.8L20.4,104.3L19.7,108.7L19.1,113.2L18.7,117.6L18.4,122.2L18.1,126.6L17.8,131.0L17.7,135.4L17.5,139.8L17.5,143.8L17.4,147.1L17.5,149.4L17.6,151.1L17.8,152.3L17.6,162.3L15.0,152.4L14.7,150.9L14.4,148.9L14.1,146.4L13.6,143.2L13.2,139.4L12.7,135.2L12.3,131.0L11.9,126.8L11.5,122.4L11.2,117.9L11.1,113.0L11.1,107.8L11.3,102.4L11.5,96.9L11.8,91.5L11.9,86.0L12.1,80.5L12.2,75.1L12.3,70.0L12.1,65.2L11.9,60.6L11.5,56.3L11.1,52.2L10.4,48.4L9.6,44.9L8.7,41.5L7.8,38.1L6.8,34.5L5.6,31.0L4.4,27.3L3.4,23.6L2.5,19.5L1.6,15.0L1.0,11.1Z" fill="#231f20"/><path d="M3.6,16.1L5.8,21.5L7.2,25.5L8.8,29.6L10.5,33.7L12.2,37.7L14.1,41.6L15.9,45.4L17.4,49.3L18.7,53.2L19.8,57.2L20.6,61.1L21.3,64.8L21.6,67.9L21.6,70.7L21.5,73.6L21.3,77.0L20.9,81.1L20.3,85.6L19.7,90.3L19.1,94.9L18.4,99.4L17.7,103.9L17.0,108.3L16.5,112.8L16.0,117.4L15.7,122.0L15.4,126.5L15.8,141.7L14.6,126.6L14.2,122.2L13.9,117.7L13.7,113.0L13.8,107.9L14.0,102.5L14.2,97.0L14.4,91.5L14.6,86.1L14.8,80.6L14.9,75.1L14.9,70.0L14.8,65.1L14.6,60.5L14.2,56.0L13.7,51.8L13.1,47.9L12.3,44.3L11.4,40.8L10.4,37.3L9.3,33.7L8.2,30.1L7.0,26.6L6.0,23.0Z" fill="#7dd1e6"/></g>
<g transform="translate(894.6,606.0) scale(0.617,0.617)"><path d="M0.0,0.0L0.1,7.2L0.5,7.9L0.7,9.3L0.6,11.3L0.2,14.2L-0.6,17.8L-1.5,21.9L-2.5,25.9L-3.7,29.8L-5.1,33.8L-6.5,37.8L-7.8,41.7L-9.0,45.5L-10.1,49.1L-11.0,52.7L-11.8,56.2L-12.3,59.7L-12.6,63.1L-12.7,66.6L-12.7,70.2L-12.4,74.1L-11.8,78.0L-11.2,82.1L-10.5,86.4L-9.7,90.7L-8.8,95.2L-7.8,99.8L-7.0,104.4L-6.2,108.9L-5.5,113.4L-4.8,117.9L-4.3,122.4L-3.9,126.9L-3.6,131.6L-3.4,136.1L-3.4,140.3L-3.4,144.1L-3.6,147.7L-3.9,151.1L-4.3,154.6L-4.8,158.2L-5.4,162.0L-6.0,165.5L-6.6,168.4L-7.1,170.5L-7.7,172.1L-8.1,173.1L-10.4,182.4L-11.0,171.7L-11.0,169.5L-11.1,166.8L-11.2,163.7L-11.5,160.1L-11.9,156.0L-12.5,151.7L-13.1,147.3L-14.0,143.0L-15.0,138.5L-16.1,134.0L-17.3,129.4L-18.5,125.0L-19.8,120.5L-21.2,116.1L-22.6,111.6L-24.1,107.1L-25.8,102.5L-27.4,97.9L-28.6,93.6L-29.5,89.8L-30.1,86.2L-30.4,82.8L-30.4,79.3L-30.2,75.7L-29.6,72.3L-28.8,68.7L-27.7,64.9L-26.3,60.7L-24.6,56.2L-22.7,51.5L-20.8,47.0L-18.9,42.4L-16.8,37.8L-14.7,33.3L-12.7,29.0L-10.8,25.0L-8.9,21.1L-7.2,17.6L-5.7,14.5L-4.6,12.0L-3.7,9.8L-3.0,8.1Z" fill="#231f20"/><path d="M-2.2,12.9L-3.2,17.3L-4.1,21.2L-5.1,25.1L-6.3,29.0L-7.7,32.9L-9.1,37.0L-10.4,40.9L-11.6,44.7L-12.7,48.4L-13.7,52.1L-14.4,55.8L-15.0,59.4L-15.3,63.0L-15.4,66.6L-15.3,70.4L-15.0,74.3L-14.5,78.4L-13.8,82.6L-13.1,86.8L-12.3,91.2L-11.4,95.8L-10.5,100.3L-9.6,104.8L-8.9,109.3L-8.1,113.8L-7.5,118.2L-6.9,122.6L-6.6,127.1L-6.3,131.7L-6.1,136.1L-6.0,140.3L-6.1,144.0L-6.3,147.5L-6.6,150.9L-6.9,154.2L-7.4,157.9L-8.0,161.6L-9.0,163.6L-8.6,163.5L-8.9,159.9L-9.3,155.7L-9.8,151.3L-10.5,146.9L-11.3,142.4L-12.4,137.9L-13.5,133.3L-14.7,128.8L-15.9,124.2L-17.2,119.8L-18.6,115.3L-20.0,110.8L-21.6,106.2L-23.2,101.6L-24.8,97.1L-26.0,93.0L-26.8,89.3L-27.4,85.9L-27.7,82.6L-27.8,79.3L-27.5,76.1L-27.0,72.8L-26.2,69.4L-25.1,65.7L-23.7,61.6L-22.1,57.1L-20.2,52.6L-18.4,48.0L-16.4,43.5L-14.3,38.9L-12.3,34.4L-10.3,30.2L-8.4,26.2L-6.5,22.3L-4.7,18.8L-3.3,15.7Z" fill="#7dd1e6"/></g>
<g transform="translate(871.3,714.2) scale(0.617,0.617)"><path d="M0.0,0.0L-0.0,8.5L0.2,12.5L0.4,16.9L0.7,20.9L1.2,24.4L1.7,27.8L2.3,31.2L3.0,34.4L3.8,37.4L4.7,40.4L5.6,43.2L6.4,45.9L7.1,48.5L7.9,50.9L8.5,53.2L8.9,55.5L9.2,57.5L9.3,59.4L9.3,61.3L8.9,63.5L8.3,65.9L7.4,68.5L6.3,71.1L5.0,73.7L3.3,76.2L1.3,78.7L-0.8,81.0L-2.8,83.3L-4.9,85.5L-7.0,87.6L-9.1,89.5L-11.0,91.5L-12.8,93.5L-14.5,95.5L-16.2,97.5L-18.0,99.6L-20.0,102.0L-22.2,104.6L-24.2,107.0L-28.6,111.9L-27.3,105.4L-26.4,102.5L-25.4,99.3L-24.3,96.5L-23.2,94.4L-22.0,92.6L-20.8,91.0L-19.5,89.3L-18.0,87.4L-16.5,85.4L-15.0,83.4L-13.8,81.5L-12.7,79.6L-11.9,77.7L-11.1,75.8L-10.5,73.9L-10.0,71.8L-9.7,69.7L-9.5,67.5L-9.3,65.2L-9.2,62.9L-9.1,60.6L-9.1,58.3L-9.1,55.9L-9.2,53.7L-9.3,51.5L-9.5,49.2L-9.6,46.7L-9.9,44.1L-10.2,41.2L-10.5,38.2L-10.5,35.0L-10.3,31.4L-9.9,27.5L-9.4,23.7L-8.8,20.4L-8.2,17.8L-7.6,15.5L-6.9,13.6L-6.1,11.7L-5.2,9.7L-4.2,7.8L-3.3,6.2Z" fill="#231f20"/><path d="M-2.9,11.7L-2.5,12.6L-2.3,17.0L-1.9,21.1L-1.5,24.8L-0.9,28.3L-0.3,31.7L0.4,35.0L1.2,38.2L2.1,41.2L3.0,44.0L3.8,46.7L4.6,49.2L5.3,51.6L5.9,53.8L6.3,55.9L6.5,57.8L6.6,59.4L6.6,61.1L6.3,62.9L5.7,65.1L4.9,67.5L3.9,69.9L2.6,72.3L1.1,74.6L-0.8,76.9L-2.8,79.2L-4.8,81.5L-6.8,83.6L-8.9,85.6L-11.0,87.6L-13.0,89.7L-14.8,91.7L-16.6,93.7L-18.3,95.7L-20.0,97.8L-22.1,100.3L-24.5,103.7L-22.9,100.2L-21.9,97.7L-20.9,95.8L-19.8,94.2L-18.6,92.6L-17.3,90.9L-15.9,89.0L-14.3,87.0L-12.8,85.0L-11.4,82.9L-10.3,80.8L-9.4,78.8L-8.6,76.7L-7.9,74.5L-7.4,72.3L-7.1,70.0L-6.8,67.7L-6.7,65.4L-6.5,63.0L-6.4,60.6L-6.4,58.3L-6.5,55.9L-6.5,53.6L-6.6,51.3L-6.8,49.0L-7.0,46.5L-7.2,43.8L-7.5,41.0L-7.8,38.1L-7.9,35.0L-7.6,31.6L-7.2,27.8L-6.7,24.1L-6.2,21.0L-5.6,18.4L-5.0,16.4L-4.4,14.5L-3.7,12.7L-2.8,10.9Z" fill="#7dd1e6"/></g>
<g transform="translate(930.5,620.1) scale(0.617,0.617)"><path d="M0.0,0.0L3.7,9.1L4.6,11.4L5.7,14.1L7.0,17.1L8.3,20.6L9.8,24.5L11.3,28.7L12.9,32.7L14.7,36.5L16.6,40.4L18.4,44.4L20.0,48.3L21.3,52.4L22.4,56.6L23.3,60.6L23.9,64.4L24.3,67.7L24.3,70.7L24.2,73.7L23.9,77.2L23.6,81.4L23.0,85.9L22.4,90.7L21.7,95.3L21.1,99.8L20.4,104.3L19.7,108.7L19.1,113.2L18.7,117.6L18.4,122.2L18.1,126.6L17.8,131.0L17.7,135.4L17.5,139.8L17.5,143.8L17.4,147.1L17.5,149.4L17.6,151.1L17.8,152.3L17.6,162.3L15.0,152.4L14.7,150.9L14.4,148.9L14.1,146.4L13.6,143.2L13.2,139.4L12.7,135.2L12.3,131.0L11.9,126.8L11.5,122.4L11.2,117.9L11.1,113.0L11.1,107.8L11.3,102.4L11.5,96.9L11.8,91.5L11.9,86.0L12.1,80.5L12.2,75.1L12.3,70.0L12.1,65.2L11.9,60.6L11.5,56.3L11.1,52.2L10.4,48.4L9.6,44.9L8.7,41.5L7.8,38.1L6.8,34.5L5.6,31.0L4.4,27.3L3.4,23.6L2.5,19.5L1.6,15.0L1.0,11.1Z" fill="#231f20"/><path d="M3.6,16.1L5.8,21.5L7.2,25.5L8.8,29.6L10.5,33.7L12.2,37.7L14.1,41.6L15.9,45.4L17.4,49.3L18.7,53.2L19.8,57.2L20.6,61.1L21.3,64.8L21.6,67.9L21.6,70.7L21.5,73.6L21.3,77.0L20.9,81.1L20.3,85.6L19.7,90.3L19.1,94.9L18.4,99.4L17.7,103.9L17.0,108.3L16.5,112.8L16.0,117.4L15.7,122.0L15.4,126.5L15.8,141.7L14.6,126.6L14.2,122.2L13.9,117.7L13.7,113.0L13.8,107.9L14.0,102.5L14.2,97.0L14.4,91.5L14.6,86.1L14.8,80.6L14.9,75.1L14.9,70.0L14.8,65.1L14.6,60.5L14.2,56.0L13.7,51.8L13.1,47.9L12.3,44.3L11.4,40.8L10.4,37.3L9.3,33.7L8.2,30.1L7.0,26.6L6.0,23.0Z" fill="#7dd1e6"/></g>
<g transform="translate(1001.5,606.0) scale(0.617,0.617)"><path d="M0.0,0.0L0.1,7.2L0.5,7.9L0.7,9.3L0.6,11.3L0.2,14.2L-0.6,17.8L-1.5,21.9L-2.5,25.9L-3.7,29.8L-5.1,33.8L-6.5,37.8L-7.8,41.7L-9.0,45.5L-10.1,49.1L-11.0,52.7L-11.8,56.2L-12.3,59.7L-12.6,63.1L-12.7,66.6L-12.7,70.2L-12.4,74.1L-11.8,78.0L-11.2,82.1L-10.5,86.4L-9.7,90.7L-8.8,95.2L-7.8,99.8L-7.0,104.4L-6.2,108.9L-5.5,113.4L-4.8,117.9L-4.3,122.4L-3.9,126.9L-3.6,131.6L-3.4,136.1L-3.4,140.3L-3.4,144.1L-3.6,147.7L-3.9,151.1L-4.3,154.6L-4.8,158.2L-5.4,162.0L-6.0,165.5L-6.6,168.4L-7.1,170.5L-7.7,172.1L-8.1,173.1L-10.4,182.4L-11.0,171.7L-11.0,169.5L-11.1,166.8L-11.2,163.7L-11.5,160.1L-11.9,156.0L-12.5,151.7L-13.1,147.3L-14.0,143.0L-15.0,138.5L-16.1,134.0L-17.3,129.4L-18.5,125.0L-19.8,120.5L-21.2,116.1L-22.6,111.6L-24.1,107.1L-25.8,102.5L-27.4,97.9L-28.6,93.6L-29.5,89.8L-30.1,86.2L-30.4,82.8L-30.4,79.3L-30.2,75.7L-29.6,72.3L-28.8,68.7L-27.7,64.9L-26.3,60.7L-24.6,56.2L-22.7,51.5L-20.8,47.0L-18.9,42.4L-16.8,37.8L-14.7,33.3L-12.7,29.0L-10.8,25.0L-8.9,21.1L-7.2,17.6L-5.7,14.5L-4.6,12.0L-3.7,9.8L-3.0,8.1Z" fill="#231f20"/><path d="M-2.2,12.9L-3.2,17.3L-4.1,21.2L-5.1,25.1L-6.3,29.0L-7.7,32.9L-9.1,37.0L-10.4,40.9L-11.6,44.7L-12.7,48.4L-13.7,52.1L-14.4,55.8L-15.0,59.4L-15.3,63.0L-15.4,66.6L-15.3,70.4L-15.0,74.3L-14.5,78.4L-13.8,82.6L-13.1,86.8L-12.3,91.2L-11.4,95.8L-10.5,100.3L-9.6,104.8L-8.9,109.3L-8.1,113.8L-7.5,118.2L-6.9,122.6L-6.6,127.1L-6.3,131.7L-6.1,136.1L-6.0,140.3L-6.1,144.0L-6.3,147.5L-6.6,150.9L-6.9,154.2L-7.4,157.9L-8.0,161.6L-9.0,163.6L-8.6,163.5L-8.9,159.9L-9.3,155.7L-9.8,151.3L-10.5,146.9L-11.3,142.4L-12.4,137.9L-13.5,133.3L-14.7,128.8L-15.9,124.2L-17.2,119.8L-18.6,115.3L-20.0,110.8L-21.6,106.2L-23.2,101.6L-24.8,97.1L-26.0,93.0L-26.8,89.3L-27.4,85.9L-27.7,82.6L-27.8,79.3L-27.5,76.1L-27.0,72.8L-26.2,69.4L-25.1,65.7L-23.7,61.6L-22.1,57.1L-20.2,52.6L-18.4,48.0L-16.4,43.5L-14.3,38.9L-12.3,34.4L-10.3,30.2L-8.4,26.2L-6.5,22.3L-4.7,18.8L-3.3,15.7Z" fill="#7dd1e6"/></g>
<g transform="translate(978.2,713.9) scale(0.617,0.617)"><path d="M0.0,0.0L-0.0,8.5L0.2,12.5L0.4,16.9L0.7,20.9L1.2,24.4L1.7,27.8L2.3,31.2L3.0,34.4L3.8,37.4L4.7,40.4L5.6,43.2L6.4,45.9L7.1,48.5L7.9,50.9L8.5,53.2L8.9,55.5L9.2,57.5L9.3,59.4L9.3,61.3L8.9,63.5L8.3,65.9L7.4,68.5L6.3,71.1L5.0,73.7L3.3,76.2L1.3,78.7L-0.8,81.0L-2.8,83.3L-4.9,85.5L-7.0,87.6L-9.1,89.5L-11.0,91.5L-12.8,93.5L-14.5,95.5L-16.2,97.5L-18.0,99.6L-20.0,102.0L-22.2,104.6L-24.2,107.0L-28.6,111.9L-27.3,105.4L-26.4,102.5L-25.4,99.3L-24.3,96.5L-23.2,94.4L-22.0,92.6L-20.8,91.0L-19.5,89.3L-18.0,87.4L-16.5,85.4L-15.0,83.4L-13.8,81.5L-12.7,79.6L-11.9,77.7L-11.1,75.8L-10.5,73.9L-10.0,71.8L-9.7,69.7L-9.5,67.5L-9.3,65.2L-9.2,62.9L-9.1,60.6L-9.1,58.3L-9.1,55.9L-9.2,53.7L-9.3,51.5L-9.5,49.2L-9.6,46.7L-9.9,44.1L-10.2,41.2L-10.5,38.2L-10.5,35.0L-10.3,31.4L-9.9,27.5L-9.4,23.7L-8.8,20.4L-8.2,17.8L-7.6,15.5L-6.9,13.6L-6.1,11.7L-5.2,9.7L-4.2,7.8L-3.3,6.2Z" fill="#231f20"/><path d="M-2.9,11.7L-2.5,12.6L-2.3,17.0L-1.9,21.1L-1.5,24.8L-0.9,28.3L-0.3,31.7L0.4,35.0L1.2,38.2L2.1,41.2L3.0,44.0L3.8,46.7L4.6,49.2L5.3,51.6L5.9,53.8L6.3,55.9L6.5,57.8L6.6,59.4L6.6,61.1L6.3,62.9L5.7,65.1L4.9,67.5L3.9,69.9L2.6,72.3L1.1,74.6L-0.8,76.9L-2.8,79.2L-4.8,81.5L-6.8,83.6L-8.9,85.6L-11.0,87.6L-13.0,89.7L-14.8,91.7L-16.6,93.7L-18.3,95.7L-20.0,97.8L-22.1,100.3L-24.5,103.7L-22.9,100.2L-21.9,97.7L-20.9,95.8L-19.8,94.2L-18.6,92.6L-17.3,90.9L-15.9,89.0L-14.3,87.0L-12.8,85.0L-11.4,82.9L-10.3,80.8L-9.4,78.8L-8.6,76.7L-7.9,74.5L-7.4,72.3L-7.1,70.0L-6.8,67.7L-6.7,65.4L-6.5,63.0L-6.4,60.6L-6.4,58.3L-6.5,55.9L-6.5,53.6L-6.6,51.3L-6.8,49.0L-7.0,46.5L-7.2,43.8L-7.5,41.0L-7.8,38.1L-7.9,35.0L-7.6,31.6L-7.2,27.8L-6.7,24.1L-6.2,21.0L-5.6,18.4L-5.0,16.4L-4.4,14.5L-3.7,12.7L-2.8,10.9Z" fill="#7dd1e6"/></g>
<g transform="translate(974.1,563.4) scale(0.810,0.920)"><path d="M0.0,0.0L-0.1,8.5L0.1,12.5L0.3,16.9L0.6,20.9L1.1,24.4L1.6,27.9L2.2,31.2L2.9,34.4L3.7,37.5L4.6,40.4L5.5,43.2L6.3,45.9L7.0,48.5L7.8,50.9L8.4,53.3L8.8,55.5L9.1,57.5L9.2,59.4L9.2,61.3L8.8,63.5L8.2,65.9L7.3,68.4L6.2,71.1L4.9,73.6L3.2,76.1L1.2,78.6L-0.8,81.0L-2.9,83.2L-4.9,85.4L-7.1,87.5L-9.1,89.5L-11.1,91.5L-12.9,93.4L-14.6,95.4L-16.3,97.4L-18.0,99.5L-20.1,101.9L-22.3,104.6L-24.3,106.9L-28.6,111.9L-27.2,105.4L-26.3,102.5L-25.3,99.3L-24.2,96.6L-23.1,94.5L-21.9,92.7L-20.7,91.1L-19.4,89.4L-18.0,87.4L-16.4,85.5L-14.9,83.5L-13.7,81.6L-12.6,79.7L-11.8,77.8L-11.0,75.9L-10.4,73.9L-10.0,71.8L-9.6,69.7L-9.4,67.5L-9.2,65.2L-9.1,62.9L-9.0,60.6L-9.0,58.3L-9.0,55.9L-9.1,53.7L-9.2,51.5L-9.4,49.2L-9.5,46.7L-9.8,44.1L-10.1,41.2L-10.4,38.2L-10.4,35.0L-10.2,31.4L-9.8,27.5L-9.3,23.7L-8.7,20.5L-8.1,17.8L-7.5,15.6L-6.8,13.6L-6.0,11.7L-5.1,9.7L-4.1,7.9L-3.2,6.3Z" fill="#231f20"/><path d="M-2.9,11.7L-2.4,12.6L-2.2,17.0L-1.8,21.1L-1.4,24.8L-0.8,28.3L-0.2,31.7L0.5,35.0L1.3,38.1L2.2,41.1L3.1,44.0L3.9,46.7L4.6,49.2L5.4,51.6L6.0,53.8L6.4,55.9L6.6,57.8L6.7,59.4L6.7,61.1L6.4,62.9L5.8,65.1L5.0,67.5L4.0,70.0L2.7,72.4L1.2,74.7L-0.7,77.0L-2.7,79.3L-4.7,81.6L-6.7,83.7L-8.8,85.7L-10.9,87.7L-12.9,89.7L-14.8,91.8L-16.5,93.8L-18.2,95.8L-20.0,97.9L-22.0,100.3L-24.5,103.7L-23.0,100.2L-22.0,97.6L-21.0,95.8L-19.9,94.2L-18.7,92.6L-17.4,90.8L-16.0,89.0L-14.4,87.0L-12.9,84.9L-11.5,82.8L-10.4,80.8L-9.5,78.8L-8.7,76.7L-8.0,74.5L-7.5,72.3L-7.2,70.0L-6.9,67.7L-6.8,65.4L-6.6,63.0L-6.5,60.6L-6.5,58.3L-6.6,55.9L-6.6,53.6L-6.7,51.3L-6.9,49.0L-7.1,46.5L-7.3,43.8L-7.6,41.0L-7.9,38.1L-8.0,35.0L-7.7,31.6L-7.3,27.8L-6.8,24.1L-6.3,20.9L-5.7,18.4L-5.1,16.3L-4.5,14.5L-3.8,12.7L-2.9,10.9Z" fill="#7dd1e6"/></g>
<path d="M992.0,206.0C992.0,206.6 990.6,208.5 992.0,209.7C993.4,210.9 998.0,211.4 1000.1,213.2C1002.2,215.0 1003.5,218.0 1004.6,220.4C1005.7,222.8 1006.3,223.9 1006.8,227.6C1007.3,231.3 1007.6,235.8 1007.7,242.8C1007.8,249.8 1007.1,263.7 1007.2,269.7C1007.3,275.7 1008.0,275.3 1008.1,278.7C1008.2,282.1 1007.7,286.2 1007.7,290.0C1007.7,293.8 1008.2,298.0 1008.1,301.7C1008.0,305.4 1007.3,306.9 1007.2,312.4C1007.1,317.9 1007.7,326.6 1007.7,334.8C1007.7,343.0 1007.4,352.7 1007.2,361.7C1007.1,370.7 1006.8,381.2 1006.8,388.7C1006.8,396.2 1007.3,402.4 1007.2,406.9C1007.1,411.4 1006.4,409.9 1006.3,415.9C1006.2,421.9 1006.6,435.3 1006.8,442.8C1006.9,450.3 1007.2,454.7 1007.2,460.7C1007.2,466.7 1006.5,472.0 1006.5,478.7C1006.5,485.4 1007.2,492.7 1007.2,500.9C1007.2,509.1 1006.9,519.9 1006.8,527.8C1006.7,535.6 1006.8,544.6 1006.8,548.0L985,530L940,530L915.8,542.1C915.7,539.7 915.3,534.7 915.3,527.8C915.3,520.9 915.8,509.1 915.8,500.9C915.8,492.7 915.3,485.4 915.3,478.7C915.3,472.0 915.6,468.2 915.8,460.7C915.9,453.2 916.2,442.0 916.2,433.8C916.2,425.6 915.6,417.4 915.8,411.4C915.9,405.4 917.0,403.1 917.1,397.9C917.2,392.7 916.5,390.5 916.4,380.0C916.2,369.5 916.3,348.7 916.2,334.8C916.1,320.9 915.7,309.0 915.8,296.7C915.9,284.4 916.5,272.8 916.7,260.8C916.9,248.8 916.8,231.5 917.1,224.9C917.4,218.3 917.9,223.4 918.5,221.3C919.1,219.2 919.0,214.3 920.7,212.3C922.4,210.3 927.4,210.2 928.8,209.2C930.1,208.1 928.8,206.5 928.8,206.0Z" fill="#ee3e4f"/>
<path d="M951.2,205.8C951.0,206.5 950.8,207.6 949.8,209.7C948.8,211.8 946.7,215.5 945.4,218.6C944.1,221.7 942.7,224.8 941.8,228.5C940.9,232.2 940.5,236.5 940.0,241.0C939.5,245.5 939.0,250.6 938.6,255.4C938.2,260.2 937.9,263.9 937.7,269.7C937.6,275.5 937.6,283.6 937.7,290.0C937.9,296.4 938.5,303.1 938.6,307.9C938.7,312.7 938.0,314.5 938.2,318.7C938.4,322.9 939.6,327.3 940.0,333.0C940.4,338.7 940.2,346.5 940.4,352.8C940.5,359.1 940.8,365.5 940.9,370.7C941.0,375.9 941.4,380.2 941.3,384.0C941.2,387.8 940.8,389.7 940.4,393.5C940.0,397.3 939.9,402.7 939.1,406.9C938.4,411.1 936.7,414.1 935.9,418.6C935.1,423.1 934.6,428.3 934.1,433.8C933.6,439.3 932.9,445.7 932.8,451.7C932.7,457.7 933.3,463.0 933.3,469.7C933.3,476.4 933.2,485.9 932.8,491.9C932.4,497.8 932.0,500.2 931.0,505.4C930.0,510.6 928.0,518.4 926.5,523.3C925.0,528.2 923.6,531.7 922.0,535.0C920.4,538.3 917.4,541.1 917.1,543.0C916.8,544.9 918.3,545.9 920.2,546.6C922.1,547.4 926.3,547.8 928.3,547.5C930.3,547.2 931.5,545.7 932.4,544.8C933.3,543.9 932.3,543.5 933.7,542.1C935.1,540.8 937.9,538.1 940.9,536.7C943.9,535.3 947.7,534.2 951.6,533.6C955.5,533.0 960.3,532.9 964.2,533.0C968.1,533.1 972.0,533.7 975.0,534.5C978.0,535.3 979.4,536.2 982.1,537.6C984.8,539.0 988.6,541.2 991.1,543.0C993.6,544.8 995.9,546.8 997.4,548.4C998.9,550.0 999.0,551.6 1000.1,552.4C1001.2,553.2 1002.7,553.7 1003.7,553.3C1004.7,552.9 1006.0,551.5 1006.3,550.2C1006.6,548.9 1006.0,547.7 1005.4,545.7C1004.8,543.8 1004.6,541.2 1002.8,538.5C1001.0,535.8 996.8,532.9 994.7,529.6C992.6,526.3 991.3,522.8 990.2,518.8C989.1,514.8 988.7,509.9 988.0,505.4C987.3,500.9 986.9,496.4 986.2,491.9C985.5,487.4 984.6,482.9 983.9,478.5C983.1,474.1 982.5,470.1 981.7,465.2C981.0,460.3 980.4,454.0 979.4,449.1C978.4,444.2 977.2,440.4 975.9,435.6C974.6,430.8 972.5,425.9 971.8,420.4C971.0,414.9 971.4,408.1 971.4,402.4C971.4,396.7 971.5,390.5 971.8,386.0C972.1,381.5 972.9,379.2 973.2,375.2C973.5,371.1 973.2,366.9 973.6,361.7C974.0,356.5 975.0,349.8 975.4,343.8C975.8,337.8 976.4,331.9 976.3,325.9C976.2,319.9 975.5,313.9 975.0,307.9C974.5,301.9 973.7,295.6 973.2,290.0C972.7,284.4 972.1,279.1 971.8,274.2C971.5,269.3 971.3,265.1 971.4,260.8C971.5,256.5 971.8,251.9 972.3,248.2C972.8,244.5 973.7,241.4 974.1,238.4C974.5,235.4 974.6,233.2 974.5,230.3C974.4,227.5 973.8,224.4 973.2,221.3C972.6,218.2 971.4,214.1 970.9,211.5C970.4,208.9 970.6,206.8 970.5,205.8Z" fill="#7dd1e6"/>
<line x1="911.1" y1="204.7" x2="1012.8" y2="204.7" stroke="#231f20" stroke-width="1.9"/>
<path d="M945.4,208.8C943.6,210.4 937.5,215.3 934.6,218.6C931.8,221.9 929.9,224.2 928.3,228.5C926.6,232.8 925.3,241.9 924.7,244.6" fill="none" stroke="#231f20" stroke-width="1.8" stroke-linecap="round"/>
<path d="M921.6,236.1L924.7,244.6L929.2,239.7" fill="none" stroke="#231f20" stroke-width="1.8" stroke-linecap="round" stroke-linejoin="round"/>
<path d="M980.8,211.5C982.4,213.4 987.9,219.4 990.2,223.1C992.5,226.8 993.7,230.4 994.7,233.9C995.7,237.4 995.8,242.5 996.0,244.2" fill="none" stroke="#231f20" stroke-width="1.8" stroke-linecap="round"/>
<path d="M990.7,237.0L996.0,244.2L999.6,238.8" fill="none" stroke="#231f20" stroke-width="1.8" stroke-linecap="round" stroke-linejoin="round"/>
<path d="M957.7,262.1C957.7,259.1 957.9,247.2 957.9,244.2" fill="none" stroke="#231f20" stroke-width="1.8" stroke-linecap="round"/>
<path d="M953.4,251.4L957.9,244.2L961.1,252.3" fill="none" stroke="#231f20" stroke-width="1.8" stroke-linecap="round" stroke-linejoin="round"/>
<path d="M923.4,307.0C923.3,310.6 923.0,325.0 922.9,328.6" fill="none" stroke="#231f20" stroke-width="1.8" stroke-linecap="round"/>
<path d="M919.3,321.4L922.9,328.6L926.5,323.2" fill="none" stroke="#231f20" stroke-width="1.8" stroke-linecap="round" stroke-linejoin="round"/>
<path d="M992.0,358.2C992.2,361.8 993.1,376.1 993.3,379.7" fill="none" stroke="#231f20" stroke-width="1.8" stroke-linecap="round"/>
<path d="M988.9,370.3L993.3,379.7L996.9,371.6" fill="none" stroke="#231f20" stroke-width="1.8" stroke-linecap="round" stroke-linejoin="round"/>
<path d="M957.0,385.1C956.9,382.8 956.2,373.5 956.1,371.2" fill="none" stroke="#231f20" stroke-width="1.8" stroke-linecap="round"/>
<path d="M953.0,377.0L956.1,371.2L959.7,377.4" fill="none" stroke="#231f20" stroke-width="1.8" stroke-linecap="round" stroke-linejoin="round"/>
<path d="M924.1,432.9C924.1,435.3 924.3,444.9 924.3,447.3" fill="none" stroke="#231f20" stroke-width="1.8" stroke-linecap="round"/>
<path d="M920.2,441.0L924.3,447.3L927.9,441.4" fill="none" stroke="#231f20" stroke-width="1.8" stroke-linecap="round" stroke-linejoin="round"/>
<path d="M956.6,461.6C956.5,459.3 956.3,450.0 956.3,447.7" fill="none" stroke="#231f20" stroke-width="1.8" stroke-linecap="round"/>
<path d="M953.0,453.1L956.3,447.7L960.4,452.2" fill="none" stroke="#231f20" stroke-width="1.8" stroke-linecap="round" stroke-linejoin="round"/>
<path d="M994.4,465.2C994.3,467.4 993.9,476.3 993.8,478.5" fill="none" stroke="#231f20" stroke-width="1.8" stroke-linecap="round"/>
<path d="M990.2,471.7L993.8,478.5L996.9,474.0" fill="none" stroke="#231f20" stroke-width="1.8" stroke-linecap="round" stroke-linejoin="round"/>
<path d="M916.2,543.0C917.8,541.1 922.8,534.8 925.6,531.4C928.4,528.0 930.7,526.2 932.8,522.4C934.9,518.6 937.3,510.8 938.2,508.5" fill="none" stroke="#231f20" stroke-width="1.8" stroke-linecap="round"/>
<path d="M932.4,513.9L938.2,508.5L938.2,516.1" fill="none" stroke="#231f20" stroke-width="1.8" stroke-linecap="round" stroke-linejoin="round"/>
<path d="M1005.4,546.2C1005.0,544.9 1004.6,541.1 1002.8,538.5C1001.0,535.9 997.6,533.8 994.7,530.5C991.9,527.2 988.1,522.5 985.7,518.8C983.3,515.1 981.2,510.2 980.3,508.5" fill="none" stroke="#231f20" stroke-width="1.8" stroke-linecap="round"/>
<path d="M979.9,513.4L980.3,508.5L985.7,512.1" fill="none" stroke="#231f20" stroke-width="1.8" stroke-linecap="round" stroke-linejoin="round"/>
<text x="1119.6" y="44.2" font-size="46.8" text-anchor="start" font-weight="bold" fill="#000"  class="b">(c)</text>
<line x1="1274.9" y1="37.3" x2="1274.9" y2="475.6" stroke="#231f20" stroke-width="1.9"/>
<line x1="1274" y1="474.8" x2="1964.5" y2="474.8" stroke="#231f20" stroke-width="1.9"/>
<clipPath id="cc"><rect x="1274" y="36.6" width="700" height="440"/></clipPath>
<g clip-path="url(#cc)">
<path d="M1275.0,298.21L1282.2,286.86L1289.5,276.29L1296.7,266.46L1304.0,257.33L1311.2,248.86L1318.5,241.01L1325.7,233.72L1333.0,226.96L1340.2,220.68L1347.5,214.85L1354.7,209.41L1362.0,204.33L1369.2,199.56L1376.4,195.08L1383.7,190.85L1390.9,186.84L1398.2,183.00L1405.4,179.33L1412.7,175.78L1419.9,172.34L1427.2,168.99L1434.4,165.70L1441.7,162.47L1448.9,159.27L1456.2,156.09L1463.4,152.92L1470.7,149.77L1477.9,146.61L1485.1,143.44L1492.4,140.27L1499.6,137.09L1506.9,133.90L1514.1,130.70L1521.4,127.49L1528.6,124.29L1535.9,121.08L1543.1,117.88L1550.4,114.70L1557.6,111.52L1564.9,108.37L1572.1,105.25L1579.3,102.16L1586.6,99.11L1593.8,96.09L1601.1,93.12L1608.3,90.20L1615.6,87.34L1622.8,84.52L1630.1,81.76L1637.3,79.05L1644.6,76.39L1651.8,73.79L1659.1,71.24L1666.3,68.74L1673.6,66.28L1680.8,63.86L1688.0,61.48L1695.3,59.13L1702.5,56.81L1709.8,54.52L1717.0,52.25L1724.3,50.00L1731.5,47.77L1738.8,45.56L1746.0,43.38L1753.3,41.22L1760.5,39.11L1767.8,37.05L1775.0,35.05" fill="none" stroke="#4a86c6" stroke-width="3.5" stroke-linejoin="round"/>
<path d="M1274.9,229.77L1279.4,222.47L1283.8,215.43L1288.3,208.67L1292.7,202.18L1297.2,195.96L1301.6,190.01L1306.1,184.32L1310.5,178.89L1315.0,173.72L1319.4,168.79L1323.9,164.10L1328.3,159.64L1332.8,155.40L1337.2,151.38L1341.7,147.55L1346.1,143.92L1350.6,140.48L1355.0,137.20L1359.5,134.09L1363.9,131.13L1368.4,128.30L1372.8,125.61L1377.3,123.03L1381.7,120.57L1386.2,118.20L1390.6,115.92L1395.1,113.72L1399.5,111.59L1404.0,109.53L1408.4,107.52L1412.9,105.55L1417.3,103.63L1421.8,101.73L1426.2,99.87L1430.7,98.02L1435.1,96.20L1439.6,94.38L1444.0,92.57L1448.5,90.77L1452.9,88.96L1457.4,87.16L1461.8,85.35L1466.3,83.54L1470.7,81.73L1475.2,79.91L1479.6,78.08L1484.1,76.24L1488.5,74.40L1493.0,72.56L1497.4,70.71L1501.9,68.86L1506.3,67.01L1510.8,65.15L1515.2,63.30L1519.7,61.44L1524.1,59.59L1528.6,57.74L1533.0,55.89L1537.5,54.04L1541.9,52.20L1546.4,50.35L1550.8,48.51L1555.3,46.65L1559.7,44.79L1564.2,42.91L1568.6,41.01L1573.1,39.09L1577.5,37.13L1582.0,35.12" fill="none" stroke="#000" stroke-width="3.6" stroke-linejoin="round"/>
</g>
<text transform="translate(1177.4,288.6) rotate(-90) scale(1,1.06)" font-size="26" fill="#231f20" textLength="87" lengthAdjust="spacing">Δ P, Pa</text>
<rect x="1186" y="243" width="80" height="22" fill="#fff"/>
<text transform="translate(1263.2,43.6) scale(1.040,1)" font-size="23.0" text-anchor="end" font-weight="normal" fill="#231f20" >1.E+07</text>
<text transform="translate(1263.2,261.5) scale(1.040,1)" font-size="23.0" text-anchor="end" font-weight="normal" fill="#231f20" >1.E+06</text>
<text transform="translate(1263.2,480.9) scale(1.040,1)" font-size="23.0" text-anchor="end" font-weight="normal" fill="#231f20" >1.E+05</text>
<text transform="translate(1276.0,507.0) scale(1.070,1)" font-size="23.5" text-anchor="middle" font-weight="normal" fill="#231f20" >10</text>
<text transform="translate(1448.0,507.0) scale(1.070,1)" font-size="23.5" text-anchor="middle" font-weight="normal" fill="#231f20" >20</text>
<text transform="translate(1620.6,507.0) scale(1.070,1)" font-size="23.5" text-anchor="middle" font-weight="normal" fill="#231f20" >30</text>
<text transform="translate(1792.4,507.0) scale(1.070,1)" font-size="23.5" text-anchor="middle" font-weight="normal" fill="#231f20" >40</text>
<text transform="translate(1964.7,507.0) scale(1.070,1)" font-size="23.5" text-anchor="middle" font-weight="normal" fill="#231f20" >50</text>
<text x="1623.2" y="533.8" font-size="27.0" text-anchor="middle" font-weight="normal" fill="#231f20" >L, m</text>
<line x1="1314.5" y1="45.2" x2="1358.5" y2="45.2" stroke="#000" stroke-width="3.6" stroke-linecap="round"/>
<line x1="1314.5" y1="73.2" x2="1358.5" y2="73.2" stroke="#4a86c6" stroke-width="3.6" stroke-linecap="round"/>
<text x="1373.3" y="50.9" font-size="27.0" text-anchor="start" font-weight="normal" fill="#231f20" >r= 10 m</text>
<text x="1373.3" y="78.5" font-size="27.0" text-anchor="start" font-weight="normal" fill="#231f20" >r= 5 m</text>
<text transform="translate(1139.0,621.8) scale(1.060,1)" font-size="44.5" text-anchor="start" font-weight="bold" fill="#000"  class="b">(d)</text>
<line x1="1250" y1="1036.2" x2="1940.7" y2="1036.2" stroke="#bfbfbf" stroke-width="1.6"/>
<line x1="1250.7" y1="600.3" x2="1250.7" y2="1037" stroke="#231f20" stroke-width="1.9"/>
<clipPath id="cd"><rect x="1250" y="599.5" width="700" height="440"/></clipPath>
<g clip-path="url(#cd)">
<path d="M1365.7,946.98L1372.7,945.71L1379.6,944.24L1386.6,942.61L1393.5,940.87L1400.5,939.04L1407.5,937.13L1414.4,935.16L1421.4,933.14L1428.3,931.06L1435.3,928.93L1442.3,926.74L1449.2,924.48L1456.2,922.14L1463.2,919.72L1470.1,917.19L1477.1,914.57L1484.0,911.82L1491.0,908.95L1498.0,905.94L1504.9,902.79L1511.9,899.49L1518.8,896.04L1525.8,892.43L1532.8,888.67L1539.7,884.74L1546.7,880.66L1553.6,876.43L1560.6,872.05L1567.6,867.53L1574.5,862.87L1581.5,858.09L1588.4,853.18L1595.4,848.16L1602.4,843.05L1609.3,837.84L1616.3,832.54L1623.3,827.18L1630.2,821.74L1637.2,816.26L1644.1,810.72L1651.1,805.13L1658.1,799.50L1665.0,793.84L1672.0,788.13L1678.9,782.38L1685.9,776.59L1692.9,770.75L1699.8,764.85L1706.8,758.89L1713.7,752.84L1720.7,746.70L1727.7,740.44L1734.6,734.05L1741.6,727.51L1748.5,720.79L1755.5,713.88L1762.5,706.73L1769.4,699.33L1776.4,691.66L1783.4,683.68L1790.3,675.36L1797.3,666.69L1804.2,657.64L1811.2,648.19L1818.2,638.32L1825.1,628.03L1832.1,617.30L1839.0,606.14L1846.0,594.56" fill="none" stroke="#7c7d7d" stroke-width="3.4" stroke-linecap="round" stroke-linejoin="round"/>
</g>
<path d="M1365.1,1026.60L1373.4,1026.28L1381.8,1025.96L1390.1,1025.65L1398.5,1025.34L1406.8,1025.03L1415.2,1024.71L1423.5,1024.40L1431.8,1024.08L1440.2,1023.76L1448.5,1023.43L1456.9,1023.09L1465.2,1022.75L1473.5,1022.40L1481.9,1022.04L1490.2,1021.67L1498.6,1021.29L1506.9,1020.90L1515.3,1020.50L1523.6,1020.08L1531.9,1019.66L1540.3,1019.22L1548.6,1018.77L1557.0,1018.31L1565.3,1017.84L1573.7,1017.35L1582.0,1016.85L1590.3,1016.34L1598.7,1015.81L1607.0,1015.27L1615.4,1014.71L1623.7,1014.14L1632.0,1013.55L1640.4,1012.95L1648.7,1012.34L1657.1,1011.71L1665.4,1011.06L1673.8,1010.40L1682.1,1009.72L1690.4,1009.02L1698.8,1008.31L1707.1,1007.57L1715.5,1006.82L1723.8,1006.05L1732.1,1005.26L1740.5,1004.45L1748.8,1003.61L1757.2,1002.75L1765.5,1001.87L1773.9,1000.96L1782.2,1000.02L1790.5,999.06L1798.9,998.07L1807.2,997.04L1815.6,995.98L1823.9,994.88L1832.3,993.75L1840.6,992.58L1848.9,991.37L1857.3,990.11L1865.6,988.80L1874.0,987.45L1882.3,986.04L1890.6,984.58L1899.0,983.06L1907.3,981.47L1915.7,979.82L1924.0,978.10L1932.4,976.31L1940.7,974.44" fill="none" stroke="#fbbc0d" stroke-width="3.2" stroke-linecap="round"/>
<path d="M1365.0,1035.24L1373.3,1035.24L1381.7,1035.23L1390.0,1035.22L1398.4,1035.20L1406.7,1035.19L1415.1,1035.17L1423.4,1035.15L1431.7,1035.13L1440.1,1035.11L1448.4,1035.09L1456.8,1035.06L1465.1,1035.03L1473.5,1035.00L1481.8,1034.97L1490.2,1034.94L1498.5,1034.90L1506.8,1034.87L1515.2,1034.83L1523.5,1034.78L1531.9,1034.74L1540.2,1034.70L1548.6,1034.65L1556.9,1034.60L1565.2,1034.55L1573.6,1034.49L1581.9,1034.44L1590.3,1034.38L1598.6,1034.32L1607.0,1034.26L1615.3,1034.20L1623.6,1034.14L1632.0,1034.07L1640.3,1034.00L1648.7,1033.93L1657.0,1033.86L1665.4,1033.78L1673.7,1033.71L1682.1,1033.63L1690.4,1033.55L1698.7,1033.47L1707.1,1033.38L1715.4,1033.30L1723.8,1033.21L1732.1,1033.12L1740.5,1033.03L1748.8,1032.94L1757.1,1032.84L1765.5,1032.74L1773.8,1032.64L1782.2,1032.54L1790.5,1032.44L1798.9,1032.33L1807.2,1032.23L1815.5,1032.12L1823.9,1032.01L1832.2,1031.89L1840.6,1031.78L1848.9,1031.66L1857.3,1031.54L1865.6,1031.42L1874.0,1031.30L1882.3,1031.18L1890.6,1031.05L1899.0,1030.92L1907.3,1030.79L1915.7,1030.66L1924.0,1030.53L1932.4,1030.39L1940.7,1030.25" fill="none" stroke="#662d91" stroke-width="3.2" stroke-linecap="round"/>
<text transform="translate(1188.5,871.8) rotate(-90) scale(1,1.06)" font-size="26" fill="#231f20">Q, m<tspan font-size="13" dy="-9.6" dx="0.5">3</tspan><tspan dy="9.6" dx="1"> s-</tspan><tspan font-size="13" dy="-9.6">1</tspan></text>
<rect x="1192.5" y="850" width="45" height="21" fill="#fff"/>
<text x="1235.0" y="692.8" font-size="22.5" text-anchor="end" font-weight="normal" fill="#231f20" >400</text>
<text x="1235.0" y="868.4" font-size="22.5" text-anchor="end" font-weight="normal" fill="#231f20" >200</text>
<text x="1233.5" y="1042.7" font-size="22.5" text-anchor="end" font-weight="normal" fill="#231f20" >0</text>
<text transform="translate(1254.9,1067.2) scale(1.040,1)" font-size="23.4" text-anchor="middle" font-weight="normal" fill="#231f20" >3.E+05</text>
<text transform="translate(1599.8,1067.2) scale(1.040,1)" font-size="23.4" text-anchor="middle" font-weight="normal" fill="#231f20" >3.E+06</text>
<text transform="translate(1943.8,1067.2) scale(1.040,1)" font-size="23.4" text-anchor="middle" font-weight="normal" fill="#231f20" >3.E+07</text>
<text x="1564" y="1105.4" font-size="25.5" fill="#231f20" textLength="85" lengthAdjust="spacing">Δ P, Pa</text>
<line x1="1274" y1="644.6" x2="1318.5" y2="644.6" stroke="#7c7d7d" stroke-width="3.4" stroke-linecap="round"/>
<line x1="1274" y1="680.7" x2="1318.5" y2="680.7" stroke="#fbbc0d" stroke-width="3.4" stroke-linecap="round"/>
<line x1="1274" y1="716.0" x2="1318.5" y2="716.0" stroke="#662d91" stroke-width="3.4" stroke-linecap="round"/>
<text transform="translate(1336.0,650.9) scale(1.02,1)" font-size="23" fill="#231f20">μ= 10<tspan font-size="14.5" dy="-5.8" dx="0.4" stroke="#231f20" stroke-width="0.35">3</tspan><tspan dy="5.8"> Pa s, dh= 10-</tspan><tspan font-size="14.5" dy="-5.8" dx="0.4" stroke="#231f20" stroke-width="0.35">3</tspan><tspan dy="5.8"> m</tspan></text>
<text transform="translate(1341.3,689.5) scale(1.02,1)" font-size="23" fill="#231f20">μ= 10<tspan font-size="14" dy="-8.2" dx="0.6">4</tspan><tspan dy="8.2"> Pa s, dh= 10-</tspan><tspan font-size="14.5" dy="-5.8" dx="0.4" stroke="#231f20" stroke-width="0.35">3</tspan><tspan dy="5.8"> m</tspan></text>
<text transform="translate(1329.2,724.6) scale(1.02,1)" font-size="23" fill="#231f20">μ= 10<tspan font-size="14" dy="-8.2" dx="0.6">4</tspan><tspan dy="8.2"> Pa s, dh= 10-</tspan><tspan font-size="14.5" dy="-5.8" dx="0.4" stroke="#231f20" stroke-width="0.35">5</tspan><tspan dy="5.8"> m</tspan></text>
</svg>
</body>
</html>
